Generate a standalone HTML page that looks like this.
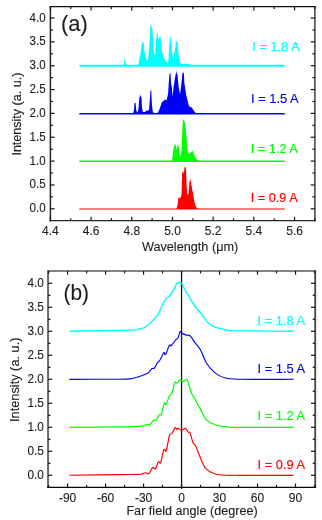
<!DOCTYPE html>
<html><head><meta charset="utf-8"><style>
html,body{margin:0;padding:0;background:#fff;width:322px;height:520px;overflow:hidden}
svg{display:block;will-change:transform;font-family:"Liberation Sans", sans-serif}
</style></head><body>
<svg width="322" height="520" viewBox="0 0 322 520">
<rect width="322" height="520" fill="#fff"/>
<line x1="49.70" y1="6.60" x2="315.60" y2="6.60" stroke="#111" stroke-width="1.3"/>
<line x1="50.40" y1="6.00" x2="50.40" y2="221.40" stroke="#262626" stroke-width="1.5"/>
<line x1="314.90" y1="6.00" x2="314.90" y2="221.40" stroke="#222" stroke-width="1.3"/>
<line x1="49.60" y1="220.60" x2="315.60" y2="220.60" stroke="#262626" stroke-width="1.4"/>
<line x1="50.40" y1="220.60" x2="50.40" y2="216.80" stroke="#161616" stroke-width="1.2"/>
<line x1="50.40" y1="6.60" x2="50.40" y2="10.40" stroke="#161616" stroke-width="1.2"/>
<text x="50.40" y="235.00" font-size="12.0" text-anchor="middle" fill="#1e1e1e" stroke="#1e1e1e" stroke-width="0.12" >4.4</text>
<line x1="70.75" y1="220.60" x2="70.75" y2="218.20" stroke="#161616" stroke-width="1.2"/>
<line x1="70.75" y1="6.60" x2="70.75" y2="9.00" stroke="#161616" stroke-width="1.2"/>
<line x1="91.09" y1="220.60" x2="91.09" y2="216.80" stroke="#161616" stroke-width="1.2"/>
<line x1="91.09" y1="6.60" x2="91.09" y2="10.40" stroke="#161616" stroke-width="1.2"/>
<text x="91.09" y="235.00" font-size="12.0" text-anchor="middle" fill="#1e1e1e" stroke="#1e1e1e" stroke-width="0.12" >4.6</text>
<line x1="111.44" y1="220.60" x2="111.44" y2="218.20" stroke="#161616" stroke-width="1.2"/>
<line x1="111.44" y1="6.60" x2="111.44" y2="9.00" stroke="#161616" stroke-width="1.2"/>
<line x1="131.78" y1="220.60" x2="131.78" y2="216.80" stroke="#161616" stroke-width="1.2"/>
<line x1="131.78" y1="6.60" x2="131.78" y2="10.40" stroke="#161616" stroke-width="1.2"/>
<text x="131.78" y="235.00" font-size="12.0" text-anchor="middle" fill="#1e1e1e" stroke="#1e1e1e" stroke-width="0.12" >4.8</text>
<line x1="152.13" y1="220.60" x2="152.13" y2="218.20" stroke="#161616" stroke-width="1.2"/>
<line x1="152.13" y1="6.60" x2="152.13" y2="9.00" stroke="#161616" stroke-width="1.2"/>
<line x1="172.48" y1="220.60" x2="172.48" y2="216.80" stroke="#161616" stroke-width="1.2"/>
<line x1="172.48" y1="6.60" x2="172.48" y2="10.40" stroke="#161616" stroke-width="1.2"/>
<text x="172.48" y="235.00" font-size="12.0" text-anchor="middle" fill="#1e1e1e" stroke="#1e1e1e" stroke-width="0.12" >5.0</text>
<line x1="192.82" y1="220.60" x2="192.82" y2="218.20" stroke="#161616" stroke-width="1.2"/>
<line x1="192.82" y1="6.60" x2="192.82" y2="9.00" stroke="#161616" stroke-width="1.2"/>
<line x1="213.17" y1="220.60" x2="213.17" y2="216.80" stroke="#161616" stroke-width="1.2"/>
<line x1="213.17" y1="6.60" x2="213.17" y2="10.40" stroke="#161616" stroke-width="1.2"/>
<text x="213.17" y="235.00" font-size="12.0" text-anchor="middle" fill="#1e1e1e" stroke="#1e1e1e" stroke-width="0.12" >5.2</text>
<line x1="233.52" y1="220.60" x2="233.52" y2="218.20" stroke="#161616" stroke-width="1.2"/>
<line x1="233.52" y1="6.60" x2="233.52" y2="9.00" stroke="#161616" stroke-width="1.2"/>
<line x1="253.86" y1="220.60" x2="253.86" y2="216.80" stroke="#161616" stroke-width="1.2"/>
<line x1="253.86" y1="6.60" x2="253.86" y2="10.40" stroke="#161616" stroke-width="1.2"/>
<text x="253.86" y="235.00" font-size="12.0" text-anchor="middle" fill="#1e1e1e" stroke="#1e1e1e" stroke-width="0.12" >5.4</text>
<line x1="274.21" y1="220.60" x2="274.21" y2="218.20" stroke="#161616" stroke-width="1.2"/>
<line x1="274.21" y1="6.60" x2="274.21" y2="9.00" stroke="#161616" stroke-width="1.2"/>
<line x1="294.55" y1="220.60" x2="294.55" y2="216.80" stroke="#161616" stroke-width="1.2"/>
<line x1="294.55" y1="6.60" x2="294.55" y2="10.40" stroke="#161616" stroke-width="1.2"/>
<text x="294.55" y="235.00" font-size="12.0" text-anchor="middle" fill="#1e1e1e" stroke="#1e1e1e" stroke-width="0.12" >5.6</text>
<line x1="314.90" y1="220.60" x2="314.90" y2="218.20" stroke="#161616" stroke-width="1.2"/>
<line x1="314.90" y1="6.60" x2="314.90" y2="9.00" stroke="#161616" stroke-width="1.2"/>
<line x1="50.40" y1="208.80" x2="54.60" y2="208.80" stroke="#161616" stroke-width="1.2"/>
<line x1="314.90" y1="208.80" x2="310.70" y2="208.80" stroke="#161616" stroke-width="1.2"/>
<text x="45.70" y="212.30" font-size="12.0" text-anchor="end" fill="#1e1e1e" stroke="#1e1e1e" stroke-width="0.12" textLength="16.1" lengthAdjust="spacingAndGlyphs">0.0</text>
<line x1="50.40" y1="196.88" x2="52.90" y2="196.88" stroke="#161616" stroke-width="1.2"/>
<line x1="314.90" y1="196.88" x2="312.40" y2="196.88" stroke="#161616" stroke-width="1.2"/>
<line x1="50.40" y1="184.95" x2="54.60" y2="184.95" stroke="#161616" stroke-width="1.2"/>
<line x1="314.90" y1="184.95" x2="310.70" y2="184.95" stroke="#161616" stroke-width="1.2"/>
<text x="45.70" y="188.45" font-size="12.0" text-anchor="end" fill="#1e1e1e" stroke="#1e1e1e" stroke-width="0.12" textLength="16.1" lengthAdjust="spacingAndGlyphs">0.5</text>
<line x1="50.40" y1="173.03" x2="52.90" y2="173.03" stroke="#161616" stroke-width="1.2"/>
<line x1="314.90" y1="173.03" x2="312.40" y2="173.03" stroke="#161616" stroke-width="1.2"/>
<line x1="50.40" y1="161.10" x2="54.60" y2="161.10" stroke="#161616" stroke-width="1.2"/>
<line x1="314.90" y1="161.10" x2="310.70" y2="161.10" stroke="#161616" stroke-width="1.2"/>
<text x="45.70" y="164.60" font-size="12.0" text-anchor="end" fill="#1e1e1e" stroke="#1e1e1e" stroke-width="0.12" textLength="16.1" lengthAdjust="spacingAndGlyphs">1.0</text>
<line x1="50.40" y1="149.18" x2="52.90" y2="149.18" stroke="#161616" stroke-width="1.2"/>
<line x1="314.90" y1="149.18" x2="312.40" y2="149.18" stroke="#161616" stroke-width="1.2"/>
<line x1="50.40" y1="137.25" x2="54.60" y2="137.25" stroke="#161616" stroke-width="1.2"/>
<line x1="314.90" y1="137.25" x2="310.70" y2="137.25" stroke="#161616" stroke-width="1.2"/>
<text x="45.70" y="140.75" font-size="12.0" text-anchor="end" fill="#1e1e1e" stroke="#1e1e1e" stroke-width="0.12" textLength="16.1" lengthAdjust="spacingAndGlyphs">1.5</text>
<line x1="50.40" y1="125.33" x2="52.90" y2="125.33" stroke="#161616" stroke-width="1.2"/>
<line x1="314.90" y1="125.33" x2="312.40" y2="125.33" stroke="#161616" stroke-width="1.2"/>
<line x1="50.40" y1="113.40" x2="54.60" y2="113.40" stroke="#161616" stroke-width="1.2"/>
<line x1="314.90" y1="113.40" x2="310.70" y2="113.40" stroke="#161616" stroke-width="1.2"/>
<text x="45.70" y="116.90" font-size="12.0" text-anchor="end" fill="#1e1e1e" stroke="#1e1e1e" stroke-width="0.12" textLength="16.1" lengthAdjust="spacingAndGlyphs">2.0</text>
<line x1="50.40" y1="101.48" x2="52.90" y2="101.48" stroke="#161616" stroke-width="1.2"/>
<line x1="314.90" y1="101.48" x2="312.40" y2="101.48" stroke="#161616" stroke-width="1.2"/>
<line x1="50.40" y1="89.55" x2="54.60" y2="89.55" stroke="#161616" stroke-width="1.2"/>
<line x1="314.90" y1="89.55" x2="310.70" y2="89.55" stroke="#161616" stroke-width="1.2"/>
<text x="45.70" y="93.05" font-size="12.0" text-anchor="end" fill="#1e1e1e" stroke="#1e1e1e" stroke-width="0.12" textLength="16.1" lengthAdjust="spacingAndGlyphs">2.5</text>
<line x1="50.40" y1="77.62" x2="52.90" y2="77.62" stroke="#161616" stroke-width="1.2"/>
<line x1="314.90" y1="77.62" x2="312.40" y2="77.62" stroke="#161616" stroke-width="1.2"/>
<line x1="50.40" y1="65.70" x2="54.60" y2="65.70" stroke="#161616" stroke-width="1.2"/>
<line x1="314.90" y1="65.70" x2="310.70" y2="65.70" stroke="#161616" stroke-width="1.2"/>
<text x="45.70" y="69.20" font-size="12.0" text-anchor="end" fill="#1e1e1e" stroke="#1e1e1e" stroke-width="0.12" textLength="16.1" lengthAdjust="spacingAndGlyphs">3.0</text>
<line x1="50.40" y1="53.78" x2="52.90" y2="53.78" stroke="#161616" stroke-width="1.2"/>
<line x1="314.90" y1="53.78" x2="312.40" y2="53.78" stroke="#161616" stroke-width="1.2"/>
<line x1="50.40" y1="41.85" x2="54.60" y2="41.85" stroke="#161616" stroke-width="1.2"/>
<line x1="314.90" y1="41.85" x2="310.70" y2="41.85" stroke="#161616" stroke-width="1.2"/>
<text x="45.70" y="45.35" font-size="12.0" text-anchor="end" fill="#1e1e1e" stroke="#1e1e1e" stroke-width="0.12" textLength="16.1" lengthAdjust="spacingAndGlyphs">3.5</text>
<line x1="50.40" y1="29.93" x2="52.90" y2="29.93" stroke="#161616" stroke-width="1.2"/>
<line x1="314.90" y1="29.93" x2="312.40" y2="29.93" stroke="#161616" stroke-width="1.2"/>
<line x1="50.40" y1="18.00" x2="54.60" y2="18.00" stroke="#161616" stroke-width="1.2"/>
<line x1="314.90" y1="18.00" x2="310.70" y2="18.00" stroke="#161616" stroke-width="1.2"/>
<text x="45.70" y="21.50" font-size="12.0" text-anchor="end" fill="#1e1e1e" stroke="#1e1e1e" stroke-width="0.12" textLength="16.1" lengthAdjust="spacingAndGlyphs">4.0</text>
<text x="141.90" y="250.90" font-size="12.6" text-anchor="start" fill="#1e1e1e" stroke="#1e1e1e" stroke-width="0.12" textLength="96.4" lengthAdjust="spacingAndGlyphs">Wavelength (&#956;m)</text>
<text x="21.30" y="155.60" font-size="12.2" text-anchor="start" fill="#1e1e1e" stroke="#1e1e1e" stroke-width="0.12" transform="rotate(-90 21.3 155.6)" textLength="83" lengthAdjust="spacingAndGlyphs">Intensity (a. u.)</text>
<text x="61.00" y="31.30" font-size="21.5" text-anchor="start" fill="#1e1e1e" stroke="#1e1e1e" stroke-width="0.12" textLength="26.8" lengthAdjust="spacingAndGlyphs">(a)</text>
<line x1="79.30" y1="65.80" x2="284.70" y2="65.80" stroke="#00ffff" stroke-width="2.0"/>
<path d="M79.30,65.80 L79.30,65.80 L79.55,65.80 L79.80,65.80 L80.05,65.80 L80.30,65.80 L80.55,65.80 L80.80,65.80 L81.05,65.80 L81.30,65.80 L81.55,65.80 L81.80,65.80 L82.05,65.80 L82.30,65.80 L82.55,65.80 L82.80,65.80 L83.05,65.80 L83.30,65.80 L83.55,65.80 L83.80,65.80 L84.05,65.80 L84.30,65.80 L84.55,65.80 L84.80,65.80 L85.05,65.80 L85.30,65.80 L85.55,65.80 L85.80,65.80 L86.05,65.80 L86.30,65.80 L86.55,65.80 L86.80,65.80 L87.05,65.80 L87.30,65.80 L87.55,65.80 L87.80,65.80 L88.05,65.80 L88.30,65.80 L88.55,65.80 L88.80,65.80 L89.05,65.80 L89.30,65.80 L89.55,65.80 L89.80,65.80 L90.05,65.80 L90.30,65.80 L90.55,65.80 L90.80,65.80 L91.05,65.80 L91.30,65.80 L91.55,65.80 L91.80,65.80 L92.05,65.80 L92.30,65.80 L92.55,65.80 L92.80,65.80 L93.05,65.80 L93.30,65.80 L93.55,65.80 L93.80,65.80 L94.05,65.80 L94.30,65.80 L94.55,65.80 L94.80,65.80 L95.05,65.80 L95.30,65.80 L95.55,65.80 L95.80,65.80 L96.05,65.80 L96.30,65.80 L96.55,65.80 L96.80,65.80 L97.05,65.80 L97.30,65.80 L97.55,65.80 L97.80,65.80 L98.05,65.80 L98.30,65.80 L98.55,65.80 L98.80,65.80 L99.05,65.80 L99.30,65.80 L99.55,65.80 L99.80,65.80 L100.05,65.80 L100.30,65.80 L100.55,65.80 L100.80,65.80 L101.05,65.80 L101.30,65.80 L101.55,65.80 L101.80,65.80 L102.05,65.80 L102.30,65.80 L102.55,65.80 L102.80,65.80 L103.05,65.80 L103.30,65.80 L103.55,65.80 L103.80,65.80 L104.05,65.80 L104.30,65.80 L104.55,65.80 L104.80,65.80 L105.05,65.80 L105.30,65.80 L105.55,65.80 L105.80,65.80 L106.05,65.80 L106.30,65.80 L106.55,65.80 L106.80,65.80 L107.05,65.80 L107.30,65.80 L107.55,65.80 L107.80,65.80 L108.05,65.80 L108.30,65.80 L108.55,65.80 L108.80,65.80 L109.05,65.80 L109.30,65.80 L109.55,65.80 L109.80,65.80 L110.05,65.80 L110.30,65.80 L110.55,65.80 L110.80,65.80 L111.05,65.80 L111.30,65.80 L111.55,65.80 L111.80,65.80 L112.05,65.80 L112.30,65.80 L112.55,65.80 L112.80,65.80 L113.05,65.80 L113.30,65.80 L113.55,65.80 L113.80,65.80 L114.05,65.80 L114.30,65.80 L114.55,65.80 L114.80,65.80 L115.05,65.80 L115.30,65.80 L115.55,65.80 L115.80,65.80 L116.05,65.80 L116.30,65.80 L116.55,65.80 L116.80,65.80 L117.05,65.80 L117.30,65.80 L117.55,65.80 L117.80,65.80 L118.05,65.80 L118.30,65.80 L118.55,65.80 L118.80,65.80 L119.05,65.80 L119.30,65.80 L119.55,65.80 L119.80,65.80 L120.05,65.80 L120.30,65.80 L120.55,65.80 L120.80,65.80 L121.05,65.80 L121.30,65.80 L121.55,65.80 L121.80,65.80 L121.90,65.80 L122.05,65.64 L122.30,65.37 L122.55,65.13 L122.80,64.83 L123.00,64.60 L123.05,64.60 L123.30,64.23 L123.55,63.95 L123.80,63.60 L124.05,59.93 L124.10,58.90 L124.30,59.26 L124.55,59.38 L124.70,58.90 L124.80,59.85 L125.05,62.30 L125.20,63.40 L125.30,63.48 L125.55,63.57 L125.80,63.74 L126.05,63.91 L126.30,63.93 L126.50,64.00 L126.55,64.04 L126.80,64.26 L127.05,64.46 L127.30,64.65 L127.55,64.83 L127.80,65.02 L128.05,65.18 L128.10,65.20 L128.30,65.35 L128.55,65.52 L128.80,65.68 L129.00,65.80 L129.05,65.80 L129.30,65.80 L129.55,65.80 L129.80,65.80 L130.05,65.80 L130.30,65.80 L130.55,65.80 L130.80,65.80 L131.05,65.80 L131.30,65.80 L131.55,65.80 L131.80,65.80 L132.05,65.80 L132.30,65.80 L132.55,65.80 L132.80,65.80 L133.05,65.80 L133.30,65.80 L133.55,65.80 L133.80,65.80 L134.05,65.80 L134.30,65.80 L134.55,65.80 L134.80,65.80 L135.05,65.80 L135.30,65.80 L135.55,65.80 L135.80,65.80 L136.00,65.80 L136.05,65.77 L136.30,65.63 L136.55,65.49 L136.80,65.35 L137.05,65.22 L137.30,65.05 L137.55,64.92 L137.80,64.75 L138.05,64.61 L138.30,64.54 L138.40,64.40 L138.55,63.56 L138.80,62.20 L139.05,60.80 L139.30,59.36 L139.40,58.30 L139.55,57.66 L139.80,56.53 L140.05,55.32 L140.30,54.54 L140.55,53.15 L140.80,51.60 L141.05,49.74 L141.30,48.19 L141.55,45.90 L141.80,44.41 L142.00,41.50 L142.05,43.06 L142.30,42.75 L142.55,41.69 L142.80,42.24 L143.05,41.63 L143.30,42.42 L143.50,41.50 L143.55,43.16 L143.80,44.52 L144.05,46.68 L144.20,47.80 L144.30,49.83 L144.55,51.10 L144.80,53.69 L145.05,55.65 L145.10,55.40 L145.30,55.98 L145.55,57.16 L145.80,57.63 L146.05,57.81 L146.30,58.73 L146.55,59.48 L146.80,60.05 L147.00,60.20 L147.05,60.45 L147.30,60.01 L147.55,60.04 L147.80,59.44 L148.00,59.20 L148.05,58.99 L148.30,56.13 L148.55,53.61 L148.80,51.69 L149.05,49.29 L149.30,45.80 L149.55,41.13 L149.80,36.54 L150.05,29.86 L150.20,25.60 L150.30,27.99 L150.55,27.28 L150.80,23.61 L151.05,24.83 L151.20,22.20 L151.30,23.90 L151.55,25.50 L151.80,27.05 L152.05,28.89 L152.30,27.50 L152.55,32.28 L152.80,36.71 L153.05,41.28 L153.30,45.80 L153.55,49.06 L153.80,50.96 L154.05,52.61 L154.30,54.40 L154.55,54.42 L154.80,54.76 L155.05,54.65 L155.20,54.40 L155.30,52.90 L155.55,48.98 L155.80,44.25 L156.05,40.30 L156.10,38.10 L156.30,38.31 L156.55,37.09 L156.80,35.09 L156.90,32.80 L157.05,32.84 L157.30,34.08 L157.55,33.60 L157.80,32.80 L158.05,37.13 L158.30,40.00 L158.55,39.06 L158.80,39.09 L159.05,38.25 L159.30,35.80 L159.55,37.29 L159.80,37.39 L160.05,36.37 L160.30,36.35 L160.50,36.20 L160.55,38.03 L160.80,39.91 L161.05,41.48 L161.20,41.90 L161.30,43.55 L161.55,45.87 L161.80,48.68 L162.05,51.22 L162.20,51.60 L162.30,52.74 L162.55,53.85 L162.80,54.41 L163.05,55.76 L163.30,56.71 L163.55,57.32 L163.60,57.30 L163.80,58.01 L164.05,58.10 L164.30,58.63 L164.55,58.82 L164.80,59.53 L165.05,59.73 L165.30,59.98 L165.50,60.20 L165.55,60.65 L165.80,60.80 L166.05,61.53 L166.30,61.81 L166.55,62.23 L166.80,62.75 L167.00,63.10 L167.05,63.13 L167.30,62.69 L167.55,62.09 L167.80,61.47 L168.05,61.17 L168.30,60.45 L168.40,60.20 L168.55,57.65 L168.80,52.09 L169.05,48.16 L169.20,43.80 L169.30,44.19 L169.55,41.52 L169.80,39.96 L170.05,38.03 L170.20,36.80 L170.30,37.16 L170.55,37.43 L170.80,37.63 L171.05,38.74 L171.10,37.10 L171.30,43.38 L171.50,47.80 L171.55,49.17 L171.80,50.10 L172.05,51.77 L172.30,53.76 L172.55,55.47 L172.80,56.40 L173.05,57.59 L173.30,58.83 L173.40,59.20 L173.55,58.40 L173.80,56.73 L174.05,54.81 L174.30,53.45 L174.55,51.84 L174.80,50.25 L174.90,48.80 L175.05,48.55 L175.30,46.98 L175.55,44.15 L175.80,42.59 L176.00,40.00 L176.05,40.79 L176.30,41.78 L176.55,41.33 L176.80,41.79 L177.05,41.89 L177.30,41.72 L177.55,40.79 L177.60,40.50 L177.80,44.60 L178.05,48.40 L178.30,51.60 L178.55,53.80 L178.80,55.88 L179.05,57.78 L179.20,58.30 L179.30,58.96 L179.55,60.01 L179.80,61.00 L180.05,62.11 L180.20,62.60 L180.30,62.74 L180.55,62.91 L180.80,63.18 L181.05,63.30 L181.30,63.47 L181.55,63.69 L181.60,63.60 L181.80,63.70 L182.05,63.70 L182.30,63.66 L182.55,63.67 L182.80,63.79 L183.05,63.75 L183.30,63.85 L183.55,63.86 L183.80,63.81 L184.05,63.78 L184.30,63.89 L184.55,63.82 L184.80,63.82 L185.05,63.92 L185.30,63.88 L185.55,63.88 L185.80,63.96 L186.05,63.93 L186.30,63.94 L186.55,63.97 L186.80,63.96 L187.05,63.97 L187.30,63.98 L187.55,64.04 L187.80,64.11 L188.05,64.11 L188.30,64.13 L188.55,64.10 L188.80,64.10 L189.05,64.20 L189.30,64.10 L189.55,64.26 L189.80,64.39 L190.05,64.55 L190.30,64.66 L190.55,64.81 L190.80,64.90 L191.05,65.06 L191.30,65.14 L191.55,65.27 L191.80,65.41 L192.00,65.50 L192.05,65.53 L192.30,65.59 L192.55,65.67 L192.80,65.74 L193.00,65.80 L193.05,65.80 L193.30,65.80 L193.55,65.80 L193.80,65.80 L194.05,65.80 L194.30,65.80 L194.55,65.80 L194.80,65.80 L195.05,65.80 L195.30,65.80 L195.55,65.80 L195.80,65.80 L196.05,65.80 L196.30,65.80 L196.55,65.80 L196.80,65.80 L197.05,65.80 L197.30,65.80 L197.55,65.80 L197.80,65.80 L198.05,65.80 L198.30,65.80 L198.55,65.80 L198.80,65.80 L199.05,65.80 L199.30,65.80 L199.55,65.80 L199.80,65.80 L200.05,65.80 L200.30,65.80 L200.55,65.80 L200.80,65.80 L201.05,65.80 L201.30,65.80 L201.55,65.80 L201.80,65.80 L202.05,65.80 L202.30,65.80 L202.55,65.80 L202.80,65.80 L203.05,65.80 L203.30,65.80 L203.55,65.80 L203.80,65.80 L204.05,65.80 L204.30,65.80 L204.55,65.80 L204.80,65.80 L205.05,65.80 L205.30,65.80 L205.55,65.80 L205.80,65.80 L206.05,65.80 L206.30,65.80 L206.55,65.80 L206.80,65.80 L207.05,65.80 L207.30,65.80 L207.55,65.80 L207.80,65.80 L208.05,65.80 L208.30,65.80 L208.55,65.80 L208.80,65.80 L209.05,65.80 L209.30,65.80 L209.55,65.80 L209.80,65.80 L210.05,65.80 L210.30,65.80 L210.55,65.80 L210.80,65.80 L211.05,65.80 L211.30,65.80 L211.55,65.80 L211.80,65.80 L212.05,65.80 L212.30,65.80 L212.55,65.80 L212.80,65.80 L213.05,65.80 L213.30,65.80 L213.55,65.80 L213.80,65.80 L214.05,65.80 L214.30,65.80 L214.55,65.80 L214.80,65.80 L215.05,65.80 L215.30,65.80 L215.55,65.80 L215.80,65.80 L216.05,65.80 L216.30,65.80 L216.55,65.80 L216.80,65.80 L217.05,65.80 L217.30,65.80 L217.55,65.80 L217.80,65.80 L218.05,65.80 L218.30,65.80 L218.55,65.80 L218.80,65.80 L219.05,65.80 L219.30,65.80 L219.55,65.80 L219.80,65.80 L220.05,65.80 L220.30,65.80 L220.55,65.80 L220.80,65.80 L221.05,65.80 L221.30,65.80 L221.55,65.80 L221.80,65.80 L222.05,65.80 L222.30,65.80 L222.55,65.80 L222.80,65.80 L223.05,65.80 L223.30,65.80 L223.55,65.80 L223.80,65.80 L224.05,65.80 L224.30,65.80 L224.55,65.80 L224.80,65.80 L225.05,65.80 L225.30,65.80 L225.55,65.80 L225.80,65.80 L226.05,65.80 L226.30,65.80 L226.55,65.80 L226.80,65.80 L227.05,65.80 L227.30,65.80 L227.55,65.80 L227.80,65.80 L228.05,65.80 L228.30,65.80 L228.55,65.80 L228.80,65.80 L229.05,65.80 L229.30,65.80 L229.55,65.80 L229.80,65.80 L230.05,65.80 L230.30,65.80 L230.55,65.80 L230.80,65.80 L231.05,65.80 L231.30,65.80 L231.55,65.80 L231.80,65.80 L232.05,65.80 L232.30,65.80 L232.55,65.80 L232.80,65.80 L233.05,65.80 L233.30,65.80 L233.55,65.80 L233.80,65.80 L234.05,65.80 L234.30,65.80 L234.55,65.80 L234.80,65.80 L235.05,65.80 L235.30,65.80 L235.55,65.80 L235.80,65.80 L236.05,65.80 L236.30,65.80 L236.55,65.80 L236.80,65.80 L237.05,65.80 L237.30,65.80 L237.55,65.80 L237.80,65.80 L238.05,65.80 L238.30,65.80 L238.55,65.80 L238.80,65.80 L239.05,65.80 L239.30,65.80 L239.55,65.80 L239.80,65.80 L240.05,65.80 L240.30,65.80 L240.55,65.80 L240.80,65.80 L241.05,65.80 L241.30,65.80 L241.55,65.80 L241.80,65.80 L242.05,65.80 L242.30,65.80 L242.55,65.80 L242.80,65.80 L243.05,65.80 L243.30,65.80 L243.55,65.80 L243.80,65.80 L244.05,65.80 L244.30,65.80 L244.55,65.80 L244.80,65.80 L245.05,65.80 L245.30,65.80 L245.55,65.80 L245.80,65.80 L246.05,65.80 L246.30,65.80 L246.55,65.80 L246.80,65.80 L247.05,65.80 L247.30,65.80 L247.55,65.80 L247.80,65.80 L248.05,65.80 L248.30,65.80 L248.55,65.80 L248.80,65.80 L249.05,65.80 L249.30,65.80 L249.55,65.80 L249.80,65.80 L250.05,65.80 L250.30,65.80 L250.55,65.80 L250.80,65.80 L251.05,65.80 L251.30,65.80 L251.55,65.80 L251.80,65.80 L252.05,65.80 L252.30,65.80 L252.55,65.80 L252.80,65.80 L253.05,65.80 L253.30,65.80 L253.55,65.80 L253.80,65.80 L254.05,65.80 L254.30,65.80 L254.55,65.80 L254.80,65.80 L255.05,65.80 L255.30,65.80 L255.55,65.80 L255.80,65.80 L256.05,65.80 L256.30,65.80 L256.55,65.80 L256.80,65.80 L257.05,65.80 L257.30,65.80 L257.55,65.80 L257.80,65.80 L258.05,65.80 L258.30,65.80 L258.55,65.80 L258.80,65.80 L259.05,65.80 L259.30,65.80 L259.55,65.80 L259.80,65.80 L260.05,65.80 L260.30,65.80 L260.55,65.80 L260.80,65.80 L261.05,65.80 L261.30,65.80 L261.55,65.80 L261.80,65.80 L262.05,65.80 L262.30,65.80 L262.55,65.80 L262.80,65.80 L263.05,65.80 L263.30,65.80 L263.55,65.80 L263.80,65.80 L264.05,65.80 L264.30,65.80 L264.55,65.80 L264.80,65.80 L265.05,65.80 L265.30,65.80 L265.55,65.80 L265.80,65.80 L266.05,65.80 L266.30,65.80 L266.55,65.80 L266.80,65.80 L267.05,65.80 L267.30,65.80 L267.55,65.80 L267.80,65.80 L268.05,65.80 L268.30,65.80 L268.55,65.80 L268.80,65.80 L269.05,65.80 L269.30,65.80 L269.55,65.80 L269.80,65.80 L270.05,65.80 L270.30,65.80 L270.55,65.80 L270.80,65.80 L271.05,65.80 L271.30,65.80 L271.55,65.80 L271.80,65.80 L272.05,65.80 L272.30,65.80 L272.55,65.80 L272.80,65.80 L273.05,65.80 L273.30,65.80 L273.55,65.80 L273.80,65.80 L274.05,65.80 L274.30,65.80 L274.55,65.80 L274.80,65.80 L275.05,65.80 L275.30,65.80 L275.55,65.80 L275.80,65.80 L276.05,65.80 L276.30,65.80 L276.55,65.80 L276.80,65.80 L277.05,65.80 L277.30,65.80 L277.55,65.80 L277.80,65.80 L278.05,65.80 L278.30,65.80 L278.55,65.80 L278.80,65.80 L279.05,65.80 L279.30,65.80 L279.55,65.80 L279.80,65.80 L280.05,65.80 L280.30,65.80 L280.55,65.80 L280.80,65.80 L281.05,65.80 L281.30,65.80 L281.55,65.80 L281.80,65.80 L282.05,65.80 L282.30,65.80 L282.55,65.80 L282.80,65.80 L283.05,65.80 L283.30,65.80 L283.55,65.80 L283.80,65.80 L284.05,65.80 L284.30,65.80 L284.55,65.80 L284.70,65.80 L284.70,65.80 Z" fill="#00ffff" stroke="none"/>
<line x1="79.30" y1="113.70" x2="284.70" y2="113.70" stroke="#0000ff" stroke-width="1.6"/>
<path d="M79.30,113.70 L79.30,113.70 L79.55,113.70 L79.80,113.70 L80.05,113.69 L80.30,113.69 L80.55,113.69 L80.80,113.69 L81.05,113.68 L81.30,113.68 L81.55,113.68 L81.80,113.68 L82.05,113.68 L82.30,113.67 L82.55,113.67 L82.80,113.67 L83.05,113.67 L83.30,113.66 L83.55,113.66 L83.80,113.66 L84.05,113.66 L84.30,113.66 L84.55,113.65 L84.80,113.65 L85.05,113.65 L85.30,113.65 L85.55,113.64 L85.80,113.64 L86.05,113.64 L86.30,113.64 L86.55,113.64 L86.80,113.64 L87.05,113.63 L87.30,113.63 L87.55,113.63 L87.80,113.62 L88.05,113.62 L88.30,113.62 L88.55,113.61 L88.80,113.61 L89.05,113.61 L89.30,113.61 L89.55,113.61 L89.80,113.60 L90.05,113.60 L90.30,113.60 L90.55,113.60 L90.80,113.60 L91.05,113.59 L91.30,113.59 L91.55,113.59 L91.80,113.59 L92.05,113.59 L92.30,113.58 L92.55,113.58 L92.80,113.58 L93.05,113.58 L93.30,113.57 L93.55,113.57 L93.80,113.57 L94.05,113.57 L94.30,113.56 L94.55,113.56 L94.80,113.56 L95.05,113.56 L95.30,113.56 L95.55,113.55 L95.80,113.56 L96.05,113.55 L96.30,113.55 L96.55,113.54 L96.80,113.55 L97.05,113.54 L97.30,113.54 L97.55,113.54 L97.80,113.53 L98.05,113.53 L98.30,113.53 L98.55,113.53 L98.80,113.53 L99.05,113.52 L99.30,113.51 L99.55,113.52 L99.80,113.52 L100.05,113.51 L100.30,113.51 L100.55,113.50 L100.80,113.51 L101.05,113.50 L101.30,113.51 L101.55,113.50 L101.80,113.50 L102.05,113.50 L102.30,113.49 L102.55,113.50 L102.80,113.49 L103.05,113.48 L103.30,113.49 L103.55,113.49 L103.80,113.47 L104.05,113.48 L104.30,113.47 L104.55,113.48 L104.80,113.47 L105.05,113.47 L105.30,113.46 L105.55,113.47 L105.80,113.45 L106.05,113.47 L106.30,113.45 L106.55,113.46 L106.80,113.46 L107.05,113.45 L107.30,113.46 L107.55,113.45 L107.80,113.44 L108.05,113.44 L108.30,113.45 L108.55,113.43 L108.80,113.44 L109.05,113.44 L109.30,113.43 L109.55,113.43 L109.80,113.42 L110.05,113.43 L110.30,113.43 L110.55,113.43 L110.80,113.42 L111.05,113.41 L111.30,113.41 L111.55,113.40 L111.80,113.40 L112.05,113.40 L112.30,113.40 L112.55,113.40 L112.80,113.41 L113.05,113.39 L113.30,113.40 L113.55,113.40 L113.80,113.39 L114.05,113.38 L114.30,113.39 L114.55,113.38 L114.80,113.38 L115.05,113.38 L115.30,113.39 L115.55,113.36 L115.80,113.38 L116.05,113.37 L116.30,113.37 L116.55,113.38 L116.80,113.36 L117.05,113.37 L117.30,113.37 L117.55,113.37 L117.80,113.36 L118.05,113.36 L118.30,113.35 L118.55,113.35 L118.80,113.33 L119.05,113.33 L119.30,113.33 L119.55,113.35 L119.80,113.34 L120.05,113.34 L120.30,113.33 L120.55,113.33 L120.80,113.32 L121.05,113.32 L121.30,113.33 L121.55,113.32 L121.80,113.32 L122.05,113.33 L122.30,113.33 L122.55,113.31 L122.80,113.32 L123.05,113.30 L123.30,113.31 L123.55,113.31 L123.80,113.31 L124.05,113.31 L124.30,113.30 L124.55,113.29 L124.80,113.29 L125.05,113.30 L125.30,113.28 L125.55,113.29 L125.80,113.27 L126.05,113.27 L126.30,113.27 L126.55,113.28 L126.80,113.27 L127.05,113.27 L127.30,113.28 L127.55,113.27 L127.80,113.26 L128.05,113.27 L128.30,113.27 L128.55,113.25 L128.80,113.26 L129.05,113.25 L129.30,113.24 L129.55,113.25 L129.80,113.25 L130.05,113.23 L130.30,113.25 L130.55,113.26 L130.80,113.23 L131.05,113.25 L131.30,113.24 L131.55,113.22 L131.80,113.22 L132.05,113.24 L132.30,113.23 L132.55,113.23 L132.80,113.22 L133.05,113.23 L133.10,113.20 L133.30,112.42 L133.55,111.51 L133.80,110.50 L134.05,109.50 L134.10,109.10 L134.30,105.84 L134.50,102.50 L134.55,103.22 L134.80,102.69 L135.05,103.13 L135.30,102.84 L135.55,102.98 L135.60,102.50 L135.80,105.33 L136.05,108.22 L136.20,110.00 L136.30,110.40 L136.55,111.06 L136.80,111.66 L137.05,112.26 L137.30,112.80 L137.55,111.98 L137.80,111.18 L138.05,110.29 L138.30,109.53 L138.40,109.10 L138.55,107.71 L138.80,104.45 L139.05,101.37 L139.30,98.42 L139.40,96.90 L139.55,97.16 L139.80,96.80 L140.05,96.13 L140.30,95.14 L140.55,95.30 L140.60,94.20 L140.80,95.64 L141.05,96.70 L141.30,97.13 L141.50,97.90 L141.55,99.12 L141.80,104.07 L142.00,108.10 L142.05,108.37 L142.30,109.58 L142.55,110.60 L142.80,111.56 L142.90,111.90 L143.05,111.99 L143.30,111.97 L143.55,111.94 L143.80,111.91 L144.05,111.95 L144.30,111.92 L144.55,112.01 L144.80,111.90 L145.05,111.80 L145.30,111.51 L145.55,111.46 L145.80,111.23 L146.05,111.11 L146.30,110.92 L146.55,110.56 L146.60,110.50 L146.80,110.46 L147.05,110.49 L147.30,110.56 L147.55,110.47 L147.80,110.44 L148.05,110.28 L148.30,110.23 L148.55,110.24 L148.80,110.16 L149.00,110.00 L149.05,109.65 L149.30,106.51 L149.55,103.19 L149.80,100.28 L149.90,98.80 L150.05,97.27 L150.30,92.50 L150.40,90.00 L150.55,90.47 L150.80,91.23 L151.05,90.17 L151.30,90.00 L151.55,96.91 L151.80,102.50 L152.05,105.15 L152.30,107.71 L152.55,109.92 L152.70,111.40 L152.80,111.58 L153.05,111.95 L153.30,112.34 L153.55,112.66 L153.80,113.02 L154.05,113.34 L154.10,113.40 L154.30,113.39 L154.55,113.39 L154.80,113.36 L155.05,113.35 L155.30,113.33 L155.55,113.31 L155.80,113.28 L156.05,113.27 L156.30,113.26 L156.55,113.23 L156.80,113.24 L157.00,113.20 L157.05,113.17 L157.30,112.98 L157.55,112.78 L157.80,112.57 L158.00,112.40 L158.05,112.36 L158.30,111.78 L158.55,111.27 L158.80,110.67 L159.05,110.04 L159.30,109.58 L159.55,109.24 L159.80,108.55 L160.00,107.90 L160.05,107.85 L160.30,106.96 L160.55,106.25 L160.80,105.34 L161.05,105.04 L161.30,103.61 L161.50,102.90 L161.55,103.04 L161.80,102.81 L162.05,102.24 L162.30,101.93 L162.55,102.27 L162.80,101.33 L163.00,100.90 L163.05,101.06 L163.30,101.33 L163.55,100.59 L163.80,100.49 L164.05,100.63 L164.30,99.79 L164.55,100.22 L164.80,99.50 L165.00,98.90 L165.05,99.52 L165.30,99.86 L165.55,99.71 L165.80,99.97 L166.05,100.38 L166.30,99.80 L166.50,99.90 L166.55,100.61 L166.80,99.75 L167.05,98.28 L167.30,96.89 L167.55,96.13 L167.80,95.03 L168.00,93.90 L168.05,93.89 L168.30,89.95 L168.55,86.96 L168.80,81.90 L169.05,79.97 L169.30,75.77 L169.50,71.40 L169.55,74.33 L169.80,74.41 L170.05,72.67 L170.30,74.60 L170.50,72.40 L170.55,74.06 L170.80,78.64 L171.00,81.90 L171.05,83.51 L171.30,84.38 L171.55,85.62 L171.80,86.96 L172.00,87.90 L172.05,90.21 L172.30,93.93 L172.50,95.90 L172.55,96.24 L172.80,93.97 L173.05,92.07 L173.30,90.43 L173.50,86.90 L173.55,87.41 L173.80,84.97 L174.05,84.58 L174.30,82.61 L174.55,81.36 L174.80,79.62 L175.00,76.90 L175.05,76.94 L175.30,77.02 L175.55,74.67 L175.80,73.73 L176.05,72.16 L176.20,69.90 L176.30,70.47 L176.55,73.74 L176.80,72.26 L177.05,74.52 L177.30,74.29 L177.50,73.90 L177.55,75.01 L177.80,78.09 L178.05,81.38 L178.30,83.05 L178.50,84.90 L178.55,87.01 L178.80,87.39 L179.05,89.29 L179.30,90.49 L179.55,91.43 L179.80,93.00 L180.00,93.90 L180.05,94.02 L180.30,92.58 L180.55,90.80 L180.80,88.49 L181.05,87.02 L181.30,85.03 L181.50,81.90 L181.55,81.45 L181.80,80.78 L182.05,76.33 L182.30,74.86 L182.50,70.90 L182.55,72.80 L182.80,72.94 L183.05,73.66 L183.30,72.53 L183.55,73.40 L183.80,70.90 L184.05,77.03 L184.30,81.85 L184.50,83.90 L184.55,84.42 L184.80,85.85 L185.05,88.24 L185.30,89.33 L185.55,90.32 L185.80,92.74 L186.00,92.90 L186.05,94.43 L186.30,95.34 L186.55,96.50 L186.80,97.02 L187.05,98.50 L187.30,99.63 L187.50,99.90 L187.55,100.30 L187.80,101.78 L188.05,102.26 L188.30,103.37 L188.55,104.50 L188.80,105.21 L189.00,105.90 L189.05,106.29 L189.30,106.16 L189.55,106.31 L189.80,106.69 L190.05,106.75 L190.30,106.79 L190.50,106.90 L190.55,107.05 L190.80,107.18 L191.05,107.25 L191.30,107.36 L191.55,107.57 L191.80,107.60 L192.00,107.70 L192.05,108.08 L192.30,108.35 L192.55,108.73 L192.80,109.24 L193.05,109.63 L193.30,110.09 L193.50,110.20 L193.55,110.28 L193.80,110.74 L194.05,111.03 L194.30,111.28 L194.55,111.72 L194.80,111.94 L195.00,112.20 L195.05,112.33 L195.30,112.56 L195.55,112.75 L195.80,112.97 L196.05,113.17 L196.20,113.30 L196.30,113.33 L196.55,113.38 L196.80,113.44 L197.05,113.50 L197.30,113.55 L197.55,113.60 L197.80,113.66 L198.00,113.70 L198.05,113.70 L198.30,113.70 L198.55,113.70 L198.80,113.70 L199.05,113.70 L199.30,113.70 L199.55,113.70 L199.80,113.70 L200.05,113.70 L200.30,113.70 L200.55,113.70 L200.80,113.70 L201.05,113.70 L201.30,113.70 L201.55,113.70 L201.80,113.70 L202.05,113.70 L202.30,113.70 L202.55,113.70 L202.80,113.70 L203.05,113.70 L203.30,113.70 L203.55,113.70 L203.80,113.70 L204.05,113.70 L204.30,113.70 L204.55,113.70 L204.80,113.70 L205.05,113.70 L205.30,113.70 L205.55,113.70 L205.80,113.70 L206.05,113.70 L206.30,113.70 L206.55,113.70 L206.80,113.70 L207.05,113.70 L207.30,113.70 L207.55,113.70 L207.80,113.70 L208.05,113.70 L208.30,113.70 L208.55,113.70 L208.80,113.70 L209.05,113.70 L209.30,113.70 L209.55,113.70 L209.80,113.70 L210.05,113.70 L210.30,113.70 L210.55,113.70 L210.80,113.70 L211.05,113.70 L211.30,113.70 L211.55,113.70 L211.80,113.70 L212.05,113.70 L212.30,113.70 L212.55,113.70 L212.80,113.70 L213.05,113.70 L213.30,113.70 L213.55,113.70 L213.80,113.70 L214.05,113.70 L214.30,113.70 L214.55,113.70 L214.80,113.70 L215.05,113.70 L215.30,113.70 L215.55,113.70 L215.80,113.70 L216.05,113.70 L216.30,113.70 L216.55,113.70 L216.80,113.70 L217.05,113.70 L217.30,113.70 L217.55,113.70 L217.80,113.70 L218.05,113.70 L218.30,113.70 L218.55,113.70 L218.80,113.70 L219.05,113.70 L219.30,113.70 L219.55,113.70 L219.80,113.70 L220.05,113.70 L220.30,113.70 L220.55,113.70 L220.80,113.70 L221.05,113.70 L221.30,113.70 L221.55,113.70 L221.80,113.70 L222.05,113.70 L222.30,113.70 L222.55,113.70 L222.80,113.70 L223.05,113.70 L223.30,113.70 L223.55,113.70 L223.80,113.70 L224.05,113.70 L224.30,113.70 L224.55,113.70 L224.80,113.70 L225.05,113.70 L225.30,113.70 L225.55,113.70 L225.80,113.70 L226.05,113.70 L226.30,113.70 L226.55,113.70 L226.80,113.70 L227.05,113.70 L227.30,113.70 L227.55,113.70 L227.80,113.70 L228.05,113.70 L228.30,113.70 L228.55,113.70 L228.80,113.70 L229.05,113.70 L229.30,113.70 L229.55,113.70 L229.80,113.70 L230.05,113.70 L230.30,113.70 L230.55,113.70 L230.80,113.70 L231.05,113.70 L231.30,113.70 L231.55,113.70 L231.80,113.70 L232.05,113.70 L232.30,113.70 L232.55,113.70 L232.80,113.70 L233.05,113.70 L233.30,113.70 L233.55,113.70 L233.80,113.70 L234.05,113.70 L234.30,113.70 L234.55,113.70 L234.80,113.70 L235.05,113.70 L235.30,113.70 L235.55,113.70 L235.80,113.70 L236.05,113.70 L236.30,113.70 L236.55,113.70 L236.80,113.70 L237.05,113.70 L237.30,113.70 L237.55,113.70 L237.80,113.70 L238.05,113.70 L238.30,113.70 L238.55,113.70 L238.80,113.70 L239.05,113.70 L239.30,113.70 L239.55,113.70 L239.80,113.70 L240.05,113.70 L240.30,113.70 L240.55,113.70 L240.80,113.70 L241.05,113.70 L241.30,113.70 L241.55,113.70 L241.80,113.70 L242.05,113.70 L242.30,113.70 L242.55,113.70 L242.80,113.70 L243.05,113.70 L243.30,113.70 L243.55,113.70 L243.80,113.70 L244.05,113.70 L244.30,113.70 L244.55,113.70 L244.80,113.70 L245.05,113.70 L245.30,113.70 L245.55,113.70 L245.80,113.70 L246.05,113.70 L246.30,113.70 L246.55,113.70 L246.80,113.70 L247.05,113.70 L247.30,113.70 L247.55,113.70 L247.80,113.70 L248.05,113.70 L248.30,113.70 L248.55,113.70 L248.80,113.70 L249.05,113.70 L249.30,113.70 L249.55,113.70 L249.80,113.70 L250.05,113.70 L250.30,113.70 L250.55,113.70 L250.80,113.70 L251.05,113.70 L251.30,113.70 L251.55,113.70 L251.80,113.70 L252.05,113.70 L252.30,113.70 L252.55,113.70 L252.80,113.70 L253.05,113.70 L253.30,113.70 L253.55,113.70 L253.80,113.70 L254.05,113.70 L254.30,113.70 L254.55,113.70 L254.80,113.70 L255.05,113.70 L255.30,113.70 L255.55,113.70 L255.80,113.70 L256.05,113.70 L256.30,113.70 L256.55,113.70 L256.80,113.70 L257.05,113.70 L257.30,113.70 L257.55,113.70 L257.80,113.70 L258.05,113.70 L258.30,113.70 L258.55,113.70 L258.80,113.70 L259.05,113.70 L259.30,113.70 L259.55,113.70 L259.80,113.70 L260.05,113.70 L260.30,113.70 L260.55,113.70 L260.80,113.70 L261.05,113.70 L261.30,113.70 L261.55,113.70 L261.80,113.70 L262.05,113.70 L262.30,113.70 L262.55,113.70 L262.80,113.70 L263.05,113.70 L263.30,113.70 L263.55,113.70 L263.80,113.70 L264.05,113.70 L264.30,113.70 L264.55,113.70 L264.80,113.70 L265.05,113.70 L265.30,113.70 L265.55,113.70 L265.80,113.70 L266.05,113.70 L266.30,113.70 L266.55,113.70 L266.80,113.70 L267.05,113.70 L267.30,113.70 L267.55,113.70 L267.80,113.70 L268.05,113.70 L268.30,113.70 L268.55,113.70 L268.80,113.70 L269.05,113.70 L269.30,113.70 L269.55,113.70 L269.80,113.70 L270.05,113.70 L270.30,113.70 L270.55,113.70 L270.80,113.70 L271.05,113.70 L271.30,113.70 L271.55,113.70 L271.80,113.70 L272.05,113.70 L272.30,113.70 L272.55,113.70 L272.80,113.70 L273.05,113.70 L273.30,113.70 L273.55,113.70 L273.80,113.70 L274.05,113.70 L274.30,113.70 L274.55,113.70 L274.80,113.70 L275.05,113.70 L275.30,113.70 L275.55,113.70 L275.80,113.70 L276.05,113.70 L276.30,113.70 L276.55,113.70 L276.80,113.70 L277.05,113.70 L277.30,113.70 L277.55,113.70 L277.80,113.70 L278.05,113.70 L278.30,113.70 L278.55,113.70 L278.80,113.70 L279.05,113.70 L279.30,113.70 L279.55,113.70 L279.80,113.70 L280.05,113.70 L280.30,113.70 L280.55,113.70 L280.80,113.70 L281.05,113.70 L281.30,113.70 L281.55,113.70 L281.80,113.70 L282.05,113.70 L282.30,113.70 L282.55,113.70 L282.80,113.70 L283.05,113.70 L283.30,113.70 L283.55,113.70 L283.80,113.70 L284.05,113.70 L284.30,113.70 L284.55,113.70 L284.70,113.70 L284.70,113.70 Z" fill="#0000ff" stroke="none"/>
<line x1="79.30" y1="161.20" x2="284.70" y2="161.20" stroke="#00ff00" stroke-width="1.6"/>
<path d="M79.30,161.20 L79.30,161.20 L79.55,161.20 L79.80,161.20 L80.05,161.20 L80.30,161.20 L80.55,161.20 L80.80,161.20 L81.05,161.20 L81.30,161.20 L81.55,161.20 L81.80,161.20 L82.05,161.20 L82.30,161.20 L82.55,161.20 L82.80,161.20 L83.05,161.20 L83.30,161.20 L83.55,161.20 L83.80,161.20 L84.05,161.20 L84.30,161.20 L84.55,161.20 L84.80,161.20 L85.05,161.20 L85.30,161.20 L85.55,161.20 L85.80,161.20 L86.05,161.20 L86.30,161.20 L86.55,161.20 L86.80,161.20 L87.05,161.20 L87.30,161.20 L87.55,161.20 L87.80,161.20 L88.05,161.20 L88.30,161.20 L88.55,161.20 L88.80,161.20 L89.05,161.20 L89.30,161.20 L89.55,161.20 L89.80,161.20 L90.05,161.20 L90.30,161.20 L90.55,161.20 L90.80,161.20 L91.05,161.20 L91.30,161.20 L91.55,161.20 L91.80,161.20 L92.05,161.20 L92.30,161.20 L92.55,161.20 L92.80,161.20 L93.05,161.20 L93.30,161.20 L93.55,161.20 L93.80,161.20 L94.05,161.20 L94.30,161.20 L94.55,161.20 L94.80,161.20 L95.05,161.20 L95.30,161.20 L95.55,161.20 L95.80,161.20 L96.05,161.20 L96.30,161.20 L96.55,161.20 L96.80,161.20 L97.05,161.20 L97.30,161.20 L97.55,161.20 L97.80,161.20 L98.05,161.20 L98.30,161.20 L98.55,161.20 L98.80,161.20 L99.05,161.20 L99.30,161.20 L99.55,161.20 L99.80,161.20 L100.05,161.20 L100.30,161.20 L100.55,161.20 L100.80,161.20 L101.05,161.20 L101.30,161.20 L101.55,161.20 L101.80,161.20 L102.05,161.20 L102.30,161.20 L102.55,161.20 L102.80,161.20 L103.05,161.20 L103.30,161.20 L103.55,161.20 L103.80,161.20 L104.05,161.20 L104.30,161.20 L104.55,161.20 L104.80,161.20 L105.05,161.20 L105.30,161.20 L105.55,161.20 L105.80,161.20 L106.05,161.20 L106.30,161.20 L106.55,161.20 L106.80,161.20 L107.05,161.20 L107.30,161.20 L107.55,161.20 L107.80,161.20 L108.05,161.20 L108.30,161.20 L108.55,161.20 L108.80,161.20 L109.05,161.20 L109.30,161.20 L109.55,161.20 L109.80,161.20 L110.05,161.20 L110.30,161.20 L110.55,161.20 L110.80,161.20 L111.05,161.20 L111.30,161.20 L111.55,161.20 L111.80,161.20 L112.05,161.20 L112.30,161.20 L112.55,161.20 L112.80,161.20 L113.05,161.20 L113.30,161.20 L113.55,161.20 L113.80,161.20 L114.05,161.20 L114.30,161.20 L114.55,161.20 L114.80,161.20 L115.05,161.20 L115.30,161.20 L115.55,161.20 L115.80,161.20 L116.05,161.20 L116.30,161.20 L116.55,161.20 L116.80,161.20 L117.05,161.20 L117.30,161.20 L117.55,161.20 L117.80,161.20 L118.05,161.20 L118.30,161.20 L118.55,161.20 L118.80,161.20 L119.05,161.20 L119.30,161.20 L119.55,161.20 L119.80,161.20 L120.05,161.20 L120.30,161.20 L120.55,161.20 L120.80,161.20 L121.05,161.20 L121.30,161.20 L121.55,161.20 L121.80,161.20 L122.05,161.20 L122.30,161.20 L122.55,161.20 L122.80,161.20 L123.05,161.20 L123.30,161.20 L123.55,161.20 L123.80,161.20 L124.05,161.20 L124.30,161.20 L124.55,161.20 L124.80,161.20 L125.05,161.20 L125.30,161.20 L125.55,161.20 L125.80,161.20 L126.05,161.20 L126.30,161.20 L126.55,161.20 L126.80,161.20 L127.05,161.20 L127.30,161.20 L127.55,161.20 L127.80,161.20 L128.05,161.20 L128.30,161.20 L128.55,161.20 L128.80,161.20 L129.05,161.20 L129.30,161.20 L129.55,161.20 L129.80,161.20 L130.05,161.20 L130.30,161.20 L130.55,161.20 L130.80,161.20 L131.05,161.20 L131.30,161.20 L131.55,161.20 L131.80,161.20 L132.05,161.20 L132.30,161.20 L132.55,161.20 L132.80,161.20 L133.05,161.20 L133.30,161.20 L133.55,161.20 L133.80,161.20 L134.05,161.20 L134.30,161.20 L134.55,161.20 L134.80,161.20 L135.05,161.20 L135.30,161.20 L135.55,161.20 L135.80,161.20 L136.05,161.20 L136.30,161.20 L136.55,161.20 L136.80,161.20 L137.05,161.20 L137.30,161.20 L137.55,161.20 L137.80,161.20 L138.05,161.20 L138.30,161.20 L138.55,161.20 L138.80,161.20 L139.05,161.20 L139.30,161.20 L139.55,161.20 L139.80,161.20 L140.05,161.20 L140.30,161.20 L140.55,161.20 L140.80,161.20 L141.05,161.20 L141.30,161.20 L141.55,161.20 L141.80,161.20 L142.05,161.20 L142.30,161.20 L142.55,161.20 L142.80,161.20 L143.05,161.20 L143.30,161.20 L143.55,161.20 L143.80,161.20 L144.05,161.20 L144.30,161.20 L144.55,161.20 L144.80,161.20 L145.05,161.20 L145.30,161.20 L145.55,161.20 L145.80,161.20 L146.05,161.20 L146.30,161.20 L146.55,161.20 L146.80,161.20 L147.05,161.20 L147.30,161.20 L147.55,161.20 L147.80,161.20 L148.05,161.20 L148.30,161.20 L148.55,161.20 L148.80,161.20 L149.05,161.20 L149.30,161.20 L149.55,161.20 L149.80,161.20 L150.05,161.20 L150.30,161.20 L150.55,161.20 L150.80,161.20 L151.05,161.20 L151.30,161.20 L151.55,161.20 L151.80,161.20 L152.05,161.20 L152.30,161.20 L152.55,161.20 L152.80,161.20 L153.05,161.20 L153.30,161.20 L153.55,161.20 L153.80,161.20 L154.05,161.20 L154.30,161.20 L154.55,161.20 L154.80,161.20 L155.05,161.20 L155.30,161.20 L155.55,161.20 L155.80,161.20 L156.05,161.20 L156.30,161.20 L156.55,161.20 L156.80,161.20 L157.05,161.20 L157.30,161.20 L157.55,161.20 L157.80,161.20 L158.05,161.20 L158.30,161.20 L158.55,161.20 L158.80,161.20 L159.05,161.20 L159.30,161.20 L159.55,161.20 L159.80,161.20 L160.05,161.20 L160.30,161.20 L160.55,161.20 L160.80,161.20 L161.05,161.20 L161.30,161.20 L161.55,161.20 L161.80,161.20 L162.05,161.20 L162.30,161.20 L162.55,161.20 L162.80,161.20 L163.05,161.20 L163.30,161.20 L163.55,161.20 L163.80,161.20 L164.05,161.20 L164.30,161.20 L164.55,161.20 L164.80,161.20 L165.05,161.20 L165.30,161.20 L165.55,161.20 L165.80,161.20 L166.05,161.20 L166.30,161.20 L166.55,161.20 L166.80,161.20 L167.05,161.20 L167.30,161.20 L167.55,161.20 L167.80,161.20 L168.05,161.20 L168.30,161.20 L168.55,161.20 L168.80,161.20 L169.05,161.20 L169.30,161.20 L169.55,161.20 L169.80,161.20 L170.05,161.20 L170.30,161.20 L170.55,161.20 L170.80,161.20 L171.05,161.20 L171.30,161.20 L171.55,161.20 L171.80,161.20 L172.05,159.83 L172.30,158.40 L172.55,156.21 L172.80,153.68 L173.05,151.49 L173.30,148.80 L173.55,148.54 L173.80,147.69 L174.05,147.00 L174.30,145.60 L174.55,144.81 L174.70,143.50 L174.80,144.57 L175.05,144.46 L175.30,144.63 L175.55,144.20 L175.70,144.00 L175.80,145.71 L176.05,146.55 L176.30,148.82 L176.50,149.80 L176.55,149.89 L176.80,148.83 L177.05,147.31 L177.30,146.14 L177.55,145.25 L177.60,144.50 L177.80,145.20 L178.05,145.05 L178.30,145.01 L178.55,145.66 L178.60,145.00 L178.80,147.71 L179.05,150.56 L179.30,153.60 L179.55,154.58 L179.80,155.38 L180.05,156.07 L180.30,156.50 L180.55,155.41 L180.80,154.25 L181.05,152.90 L181.30,151.76 L181.50,150.70 L181.55,149.96 L181.80,143.53 L182.05,136.94 L182.20,131.50 L182.30,131.44 L182.55,125.75 L182.80,120.76 L182.90,118.50 L183.05,118.87 L183.30,120.92 L183.55,119.23 L183.80,120.98 L183.90,119.00 L184.05,121.01 L184.30,120.63 L184.55,122.98 L184.80,120.90 L185.05,125.26 L185.30,125.17 L185.55,128.39 L185.80,128.60 L186.05,132.93 L186.30,135.38 L186.55,138.14 L186.60,138.20 L186.80,142.96 L187.00,145.00 L187.05,146.27 L187.30,148.74 L187.55,151.28 L187.80,153.60 L188.05,153.91 L188.30,153.59 L188.55,153.27 L188.80,153.47 L189.05,153.27 L189.30,153.40 L189.55,153.20 L189.70,152.70 L189.80,152.85 L190.05,153.06 L190.30,152.45 L190.55,152.31 L190.80,152.69 L191.05,152.03 L191.30,152.27 L191.55,151.88 L191.60,151.70 L191.80,151.59 L192.05,151.57 L192.30,150.96 L192.55,150.63 L192.60,150.30 L192.80,150.97 L193.05,152.00 L193.30,152.32 L193.50,152.70 L193.55,152.86 L193.80,153.69 L194.05,154.42 L194.30,155.26 L194.55,155.75 L194.80,156.45 L194.90,156.50 L195.05,156.83 L195.30,157.23 L195.55,157.65 L195.80,158.13 L196.05,158.41 L196.30,158.80 L196.40,158.90 L196.55,159.14 L196.80,159.22 L197.05,159.43 L197.30,159.67 L197.55,159.77 L197.80,160.03 L198.05,160.19 L198.30,160.34 L198.55,160.53 L198.80,160.70 L199.05,160.82 L199.30,160.92 L199.55,161.02 L199.80,161.12 L200.00,161.20 L200.05,161.20 L200.30,161.20 L200.55,161.20 L200.80,161.20 L201.05,161.20 L201.30,161.20 L201.55,161.20 L201.80,161.20 L202.05,161.20 L202.30,161.20 L202.55,161.20 L202.80,161.20 L203.05,161.20 L203.30,161.20 L203.55,161.20 L203.80,161.20 L204.05,161.20 L204.30,161.20 L204.55,161.20 L204.80,161.20 L205.05,161.20 L205.30,161.20 L205.55,161.20 L205.80,161.20 L206.05,161.20 L206.30,161.20 L206.55,161.20 L206.80,161.20 L207.05,161.20 L207.30,161.20 L207.55,161.20 L207.80,161.20 L208.05,161.20 L208.30,161.20 L208.55,161.20 L208.80,161.20 L209.05,161.20 L209.30,161.20 L209.55,161.20 L209.80,161.20 L210.05,161.20 L210.30,161.20 L210.55,161.20 L210.80,161.20 L211.05,161.20 L211.30,161.20 L211.55,161.20 L211.80,161.20 L212.05,161.20 L212.30,161.20 L212.55,161.20 L212.80,161.20 L213.05,161.20 L213.30,161.20 L213.55,161.20 L213.80,161.20 L214.05,161.20 L214.30,161.20 L214.55,161.20 L214.80,161.20 L215.05,161.20 L215.30,161.20 L215.55,161.20 L215.80,161.20 L216.05,161.20 L216.30,161.20 L216.55,161.20 L216.80,161.20 L217.05,161.20 L217.30,161.20 L217.55,161.20 L217.80,161.20 L218.05,161.20 L218.30,161.20 L218.55,161.20 L218.80,161.20 L219.05,161.20 L219.30,161.20 L219.55,161.20 L219.80,161.20 L220.05,161.20 L220.30,161.20 L220.55,161.20 L220.80,161.20 L221.05,161.20 L221.30,161.20 L221.55,161.20 L221.80,161.20 L222.05,161.20 L222.30,161.20 L222.55,161.20 L222.80,161.20 L223.05,161.20 L223.30,161.20 L223.55,161.20 L223.80,161.20 L224.05,161.20 L224.30,161.20 L224.55,161.20 L224.80,161.20 L225.05,161.20 L225.30,161.20 L225.55,161.20 L225.80,161.20 L226.05,161.20 L226.30,161.20 L226.55,161.20 L226.80,161.20 L227.05,161.20 L227.30,161.20 L227.55,161.20 L227.80,161.20 L228.05,161.20 L228.30,161.20 L228.55,161.20 L228.80,161.20 L229.05,161.20 L229.30,161.20 L229.55,161.20 L229.80,161.20 L230.05,161.20 L230.30,161.20 L230.55,161.20 L230.80,161.20 L231.05,161.20 L231.30,161.20 L231.55,161.20 L231.80,161.20 L232.05,161.20 L232.30,161.20 L232.55,161.20 L232.80,161.20 L233.05,161.20 L233.30,161.20 L233.55,161.20 L233.80,161.20 L234.05,161.20 L234.30,161.20 L234.55,161.20 L234.80,161.20 L235.05,161.20 L235.30,161.20 L235.55,161.20 L235.80,161.20 L236.05,161.20 L236.30,161.20 L236.55,161.20 L236.80,161.20 L237.05,161.20 L237.30,161.20 L237.55,161.20 L237.80,161.20 L238.05,161.20 L238.30,161.20 L238.55,161.20 L238.80,161.20 L239.05,161.20 L239.30,161.20 L239.55,161.20 L239.80,161.20 L240.05,161.20 L240.30,161.20 L240.55,161.20 L240.80,161.20 L241.05,161.20 L241.30,161.20 L241.55,161.20 L241.80,161.20 L242.05,161.20 L242.30,161.20 L242.55,161.20 L242.80,161.20 L243.05,161.20 L243.30,161.20 L243.55,161.20 L243.80,161.20 L244.05,161.20 L244.30,161.20 L244.55,161.20 L244.80,161.20 L245.05,161.20 L245.30,161.20 L245.55,161.20 L245.80,161.20 L246.05,161.20 L246.30,161.20 L246.55,161.20 L246.80,161.20 L247.05,161.20 L247.30,161.20 L247.55,161.20 L247.80,161.20 L248.05,161.20 L248.30,161.20 L248.55,161.20 L248.80,161.20 L249.05,161.20 L249.30,161.20 L249.55,161.20 L249.80,161.20 L250.05,161.20 L250.30,161.20 L250.55,161.20 L250.80,161.20 L251.05,161.20 L251.30,161.20 L251.55,161.20 L251.80,161.20 L252.05,161.20 L252.30,161.20 L252.55,161.20 L252.80,161.20 L253.05,161.20 L253.30,161.20 L253.55,161.20 L253.80,161.20 L254.05,161.20 L254.30,161.20 L254.55,161.20 L254.80,161.20 L255.05,161.20 L255.30,161.20 L255.55,161.20 L255.80,161.20 L256.05,161.20 L256.30,161.20 L256.55,161.20 L256.80,161.20 L257.05,161.20 L257.30,161.20 L257.55,161.20 L257.80,161.20 L258.05,161.20 L258.30,161.20 L258.55,161.20 L258.80,161.20 L259.05,161.20 L259.30,161.20 L259.55,161.20 L259.80,161.20 L260.05,161.20 L260.30,161.20 L260.55,161.20 L260.80,161.20 L261.05,161.20 L261.30,161.20 L261.55,161.20 L261.80,161.20 L262.05,161.20 L262.30,161.20 L262.55,161.20 L262.80,161.20 L263.05,161.20 L263.30,161.20 L263.55,161.20 L263.80,161.20 L264.05,161.20 L264.30,161.20 L264.55,161.20 L264.80,161.20 L265.05,161.20 L265.30,161.20 L265.55,161.20 L265.80,161.20 L266.05,161.20 L266.30,161.20 L266.55,161.20 L266.80,161.20 L267.05,161.20 L267.30,161.20 L267.55,161.20 L267.80,161.20 L268.05,161.20 L268.30,161.20 L268.55,161.20 L268.80,161.20 L269.05,161.20 L269.30,161.20 L269.55,161.20 L269.80,161.20 L270.05,161.20 L270.30,161.20 L270.55,161.20 L270.80,161.20 L271.05,161.20 L271.30,161.20 L271.55,161.20 L271.80,161.20 L272.05,161.20 L272.30,161.20 L272.55,161.20 L272.80,161.20 L273.05,161.20 L273.30,161.20 L273.55,161.20 L273.80,161.20 L274.05,161.20 L274.30,161.20 L274.55,161.20 L274.80,161.20 L275.05,161.20 L275.30,161.20 L275.55,161.20 L275.80,161.20 L276.05,161.20 L276.30,161.20 L276.55,161.20 L276.80,161.20 L277.05,161.20 L277.30,161.20 L277.55,161.20 L277.80,161.20 L278.05,161.20 L278.30,161.20 L278.55,161.20 L278.80,161.20 L279.05,161.20 L279.30,161.20 L279.55,161.20 L279.80,161.20 L280.05,161.20 L280.30,161.20 L280.55,161.20 L280.80,161.20 L281.05,161.20 L281.30,161.20 L281.55,161.20 L281.80,161.20 L282.05,161.20 L282.30,161.20 L282.55,161.20 L282.80,161.20 L283.05,161.20 L283.30,161.20 L283.55,161.20 L283.80,161.20 L284.05,161.20 L284.30,161.20 L284.55,161.20 L284.70,161.20 L284.70,161.20 Z" fill="#00ff00" stroke="none"/>
<line x1="79.30" y1="209.00" x2="284.70" y2="209.00" stroke="#ff0000" stroke-width="1.2"/>
<path d="M79.30,209.00 L79.30,209.00 L79.55,209.00 L79.80,209.00 L80.05,209.00 L80.30,209.00 L80.55,209.00 L80.80,209.00 L81.05,209.00 L81.30,209.00 L81.55,209.00 L81.80,209.00 L82.05,209.00 L82.30,209.00 L82.55,209.00 L82.80,209.00 L83.05,209.00 L83.30,209.00 L83.55,209.00 L83.80,209.00 L84.05,209.00 L84.30,209.00 L84.55,209.00 L84.80,209.00 L85.05,209.00 L85.30,209.00 L85.55,209.00 L85.80,209.00 L86.05,209.00 L86.30,209.00 L86.55,209.00 L86.80,209.00 L87.05,209.00 L87.30,209.00 L87.55,209.00 L87.80,209.00 L88.05,209.00 L88.30,209.00 L88.55,209.00 L88.80,209.00 L89.05,209.00 L89.30,209.00 L89.55,209.00 L89.80,209.00 L90.05,209.00 L90.30,209.00 L90.55,209.00 L90.80,209.00 L91.05,209.00 L91.30,209.00 L91.55,209.00 L91.80,209.00 L92.05,209.00 L92.30,209.00 L92.55,209.00 L92.80,209.00 L93.05,209.00 L93.30,209.00 L93.55,209.00 L93.80,209.00 L94.05,209.00 L94.30,209.00 L94.55,209.00 L94.80,209.00 L95.05,209.00 L95.30,209.00 L95.55,209.00 L95.80,209.00 L96.05,209.00 L96.30,209.00 L96.55,209.00 L96.80,209.00 L97.05,209.00 L97.30,209.00 L97.55,209.00 L97.80,209.00 L98.05,209.00 L98.30,209.00 L98.55,209.00 L98.80,209.00 L99.05,209.00 L99.30,209.00 L99.55,209.00 L99.80,209.00 L100.05,209.00 L100.30,209.00 L100.55,209.00 L100.80,209.00 L101.05,209.00 L101.30,209.00 L101.55,209.00 L101.80,209.00 L102.05,209.00 L102.30,209.00 L102.55,209.00 L102.80,209.00 L103.05,209.00 L103.30,209.00 L103.55,209.00 L103.80,209.00 L104.05,209.00 L104.30,209.00 L104.55,209.00 L104.80,209.00 L105.05,209.00 L105.30,209.00 L105.55,209.00 L105.80,209.00 L106.05,209.00 L106.30,209.00 L106.55,209.00 L106.80,209.00 L107.05,209.00 L107.30,209.00 L107.55,209.00 L107.80,209.00 L108.05,209.00 L108.30,209.00 L108.55,209.00 L108.80,209.00 L109.05,209.00 L109.30,209.00 L109.55,209.00 L109.80,209.00 L110.05,209.00 L110.30,209.00 L110.55,209.00 L110.80,209.00 L111.05,209.00 L111.30,209.00 L111.55,209.00 L111.80,209.00 L112.05,209.00 L112.30,209.00 L112.55,209.00 L112.80,209.00 L113.05,209.00 L113.30,209.00 L113.55,209.00 L113.80,209.00 L114.05,209.00 L114.30,209.00 L114.55,209.00 L114.80,209.00 L115.05,209.00 L115.30,209.00 L115.55,209.00 L115.80,209.00 L116.05,209.00 L116.30,209.00 L116.55,209.00 L116.80,209.00 L117.05,209.00 L117.30,209.00 L117.55,209.00 L117.80,209.00 L118.05,209.00 L118.30,209.00 L118.55,209.00 L118.80,209.00 L119.05,209.00 L119.30,209.00 L119.55,209.00 L119.80,209.00 L120.05,209.00 L120.30,209.00 L120.55,209.00 L120.80,209.00 L121.05,209.00 L121.30,209.00 L121.55,209.00 L121.80,209.00 L122.05,209.00 L122.30,209.00 L122.55,209.00 L122.80,209.00 L123.05,209.00 L123.30,209.00 L123.55,209.00 L123.80,209.00 L124.05,209.00 L124.30,209.00 L124.55,209.00 L124.80,209.00 L125.05,209.00 L125.30,209.00 L125.55,209.00 L125.80,209.00 L126.05,209.00 L126.30,209.00 L126.55,209.00 L126.80,209.00 L127.05,209.00 L127.30,209.00 L127.55,209.00 L127.80,209.00 L128.05,209.00 L128.30,209.00 L128.55,209.00 L128.80,209.00 L129.05,209.00 L129.30,209.00 L129.55,209.00 L129.80,209.00 L130.05,209.00 L130.30,209.00 L130.55,209.00 L130.80,209.00 L131.05,209.00 L131.30,209.00 L131.55,209.00 L131.80,209.00 L132.05,209.00 L132.30,209.00 L132.55,209.00 L132.80,209.00 L133.05,209.00 L133.30,209.00 L133.55,209.00 L133.80,209.00 L134.05,209.00 L134.30,209.00 L134.55,209.00 L134.80,209.00 L135.05,209.00 L135.30,209.00 L135.55,209.00 L135.80,209.00 L136.05,209.00 L136.30,209.00 L136.55,209.00 L136.80,209.00 L137.05,209.00 L137.30,209.00 L137.55,209.00 L137.80,209.00 L138.05,209.00 L138.30,209.00 L138.55,209.00 L138.80,209.00 L139.05,209.00 L139.30,209.00 L139.55,209.00 L139.80,209.00 L140.05,209.00 L140.30,209.00 L140.55,209.00 L140.80,209.00 L141.05,209.00 L141.30,209.00 L141.55,209.00 L141.80,209.00 L142.05,209.00 L142.30,209.00 L142.55,209.00 L142.80,209.00 L143.05,209.00 L143.30,209.00 L143.55,209.00 L143.80,209.00 L144.05,209.00 L144.30,209.00 L144.55,209.00 L144.80,209.00 L145.05,209.00 L145.30,209.00 L145.55,209.00 L145.80,209.00 L146.05,209.00 L146.30,209.00 L146.55,209.00 L146.80,209.00 L147.05,209.00 L147.30,209.00 L147.55,209.00 L147.80,209.00 L148.05,209.00 L148.30,209.00 L148.55,209.00 L148.80,209.00 L149.05,209.00 L149.30,209.00 L149.55,209.00 L149.80,209.00 L150.05,209.00 L150.30,209.00 L150.55,209.00 L150.80,209.00 L151.05,209.00 L151.30,209.00 L151.55,209.00 L151.80,209.00 L152.05,209.00 L152.30,209.00 L152.55,209.00 L152.80,209.00 L153.05,209.00 L153.30,209.00 L153.55,209.00 L153.80,209.00 L154.05,209.00 L154.30,209.00 L154.55,209.00 L154.80,209.00 L155.05,209.00 L155.30,209.00 L155.55,209.00 L155.80,209.00 L156.05,209.00 L156.30,209.00 L156.55,209.00 L156.80,209.00 L157.05,209.00 L157.30,209.00 L157.55,209.00 L157.80,209.00 L158.05,209.00 L158.30,209.00 L158.55,209.00 L158.80,209.00 L159.05,209.00 L159.30,209.00 L159.55,209.00 L159.80,209.00 L160.05,209.00 L160.30,209.00 L160.55,209.00 L160.80,209.00 L161.05,209.00 L161.30,209.00 L161.55,209.00 L161.80,209.00 L162.05,209.00 L162.30,209.00 L162.55,209.00 L162.80,209.00 L163.05,209.00 L163.30,209.00 L163.55,209.00 L163.80,209.00 L164.05,209.00 L164.30,209.00 L164.55,209.00 L164.80,209.00 L165.05,209.00 L165.30,209.00 L165.55,209.00 L165.80,209.00 L166.05,209.00 L166.30,209.00 L166.55,209.00 L166.80,209.00 L167.05,209.00 L167.30,209.00 L167.55,209.00 L167.80,209.00 L168.05,209.00 L168.30,209.00 L168.55,209.00 L168.80,209.00 L169.05,209.00 L169.30,209.00 L169.55,209.00 L169.80,209.00 L170.05,209.00 L170.30,209.00 L170.55,209.00 L170.80,209.00 L171.05,209.00 L171.30,209.00 L171.55,209.00 L171.80,209.00 L172.05,209.00 L172.30,209.00 L172.55,209.00 L172.80,209.00 L173.05,209.00 L173.30,209.00 L173.55,209.00 L173.80,209.00 L174.05,209.00 L174.30,209.00 L174.55,209.00 L174.80,209.00 L175.05,209.00 L175.30,209.00 L175.55,209.00 L175.80,209.00 L176.05,209.00 L176.30,209.00 L176.50,209.00 L176.55,208.81 L176.80,207.80 L177.05,206.93 L177.30,205.99 L177.50,205.00 L177.55,204.65 L177.80,202.68 L178.05,201.05 L178.30,198.93 L178.50,197.00 L178.55,197.46 L178.80,197.38 L179.05,197.94 L179.30,197.54 L179.55,197.53 L179.80,197.88 L180.05,197.84 L180.30,197.95 L180.50,198.00 L180.55,198.29 L180.80,196.93 L181.05,195.95 L181.30,195.21 L181.50,194.00 L181.55,193.40 L181.80,184.81 L182.05,176.13 L182.20,171.00 L182.30,172.88 L182.55,172.05 L182.80,171.46 L183.05,172.32 L183.30,173.88 L183.55,172.39 L183.80,171.50 L184.05,172.15 L184.30,169.15 L184.55,168.36 L184.80,166.00 L185.05,168.08 L185.30,166.31 L185.55,167.13 L185.80,167.99 L186.00,166.00 L186.05,168.18 L186.30,176.45 L186.50,183.00 L186.55,183.97 L186.80,187.89 L187.05,192.06 L187.20,194.00 L187.30,194.32 L187.55,194.42 L187.80,194.50 L188.05,194.01 L188.30,194.68 L188.50,194.00 L188.55,194.36 L188.80,190.48 L189.05,187.63 L189.30,184.41 L189.50,181.00 L189.55,181.64 L189.80,181.62 L190.05,181.01 L190.30,180.58 L190.50,178.00 L190.55,178.82 L190.80,180.29 L191.05,182.43 L191.30,185.17 L191.50,185.00 L191.55,185.30 L191.80,186.87 L192.05,188.66 L192.30,190.65 L192.55,190.80 L192.80,192.38 L193.00,193.00 L193.05,193.72 L193.30,195.78 L193.55,196.54 L193.80,198.56 L194.05,199.65 L194.30,201.29 L194.50,202.00 L194.55,202.47 L194.80,203.05 L195.05,203.92 L195.30,204.72 L195.55,205.67 L195.80,206.45 L196.00,207.00 L196.05,207.10 L196.30,207.41 L196.55,207.61 L196.80,207.80 L197.05,208.07 L197.30,208.31 L197.50,208.50 L197.55,208.54 L197.80,208.61 L198.05,208.69 L198.30,208.77 L198.55,208.86 L198.80,208.94 L199.00,209.00 L199.05,209.00 L199.30,209.00 L199.55,209.00 L199.80,209.00 L200.05,209.00 L200.30,209.00 L200.55,209.00 L200.80,209.00 L201.05,209.00 L201.30,209.00 L201.55,209.00 L201.80,209.00 L202.05,209.00 L202.30,209.00 L202.55,209.00 L202.80,209.00 L203.05,209.00 L203.30,209.00 L203.55,209.00 L203.80,209.00 L204.05,209.00 L204.30,209.00 L204.55,209.00 L204.80,209.00 L205.05,209.00 L205.30,209.00 L205.55,209.00 L205.80,209.00 L206.05,209.00 L206.30,209.00 L206.55,209.00 L206.80,209.00 L207.05,209.00 L207.30,209.00 L207.55,209.00 L207.80,209.00 L208.05,209.00 L208.30,209.00 L208.55,209.00 L208.80,209.00 L209.05,209.00 L209.30,209.00 L209.55,209.00 L209.80,209.00 L210.05,209.00 L210.30,209.00 L210.55,209.00 L210.80,209.00 L211.05,209.00 L211.30,209.00 L211.55,209.00 L211.80,209.00 L212.05,209.00 L212.30,209.00 L212.55,209.00 L212.80,209.00 L213.05,209.00 L213.30,209.00 L213.55,209.00 L213.80,209.00 L214.05,209.00 L214.30,209.00 L214.55,209.00 L214.80,209.00 L215.05,209.00 L215.30,209.00 L215.55,209.00 L215.80,209.00 L216.05,209.00 L216.30,209.00 L216.55,209.00 L216.80,209.00 L217.05,209.00 L217.30,209.00 L217.55,209.00 L217.80,209.00 L218.05,209.00 L218.30,209.00 L218.55,209.00 L218.80,209.00 L219.05,209.00 L219.30,209.00 L219.55,209.00 L219.80,209.00 L220.05,209.00 L220.30,209.00 L220.55,209.00 L220.80,209.00 L221.05,209.00 L221.30,209.00 L221.55,209.00 L221.80,209.00 L222.05,209.00 L222.30,209.00 L222.55,209.00 L222.80,209.00 L223.05,209.00 L223.30,209.00 L223.55,209.00 L223.80,209.00 L224.05,209.00 L224.30,209.00 L224.55,209.00 L224.80,209.00 L225.05,209.00 L225.30,209.00 L225.55,209.00 L225.80,209.00 L226.05,209.00 L226.30,209.00 L226.55,209.00 L226.80,209.00 L227.05,209.00 L227.30,209.00 L227.55,209.00 L227.80,209.00 L228.05,209.00 L228.30,209.00 L228.55,209.00 L228.80,209.00 L229.05,209.00 L229.30,209.00 L229.55,209.00 L229.80,209.00 L230.05,209.00 L230.30,209.00 L230.55,209.00 L230.80,209.00 L231.05,209.00 L231.30,209.00 L231.55,209.00 L231.80,209.00 L232.05,209.00 L232.30,209.00 L232.55,209.00 L232.80,209.00 L233.05,209.00 L233.30,209.00 L233.55,209.00 L233.80,209.00 L234.05,209.00 L234.30,209.00 L234.55,209.00 L234.80,209.00 L235.05,209.00 L235.30,209.00 L235.55,209.00 L235.80,209.00 L236.05,209.00 L236.30,209.00 L236.55,209.00 L236.80,209.00 L237.05,209.00 L237.30,209.00 L237.55,209.00 L237.80,209.00 L238.05,209.00 L238.30,209.00 L238.55,209.00 L238.80,209.00 L239.05,209.00 L239.30,209.00 L239.55,209.00 L239.80,209.00 L240.05,209.00 L240.30,209.00 L240.55,209.00 L240.80,209.00 L241.05,209.00 L241.30,209.00 L241.55,209.00 L241.80,209.00 L242.05,209.00 L242.30,209.00 L242.55,209.00 L242.80,209.00 L243.05,209.00 L243.30,209.00 L243.55,209.00 L243.80,209.00 L244.05,209.00 L244.30,209.00 L244.55,209.00 L244.80,209.00 L245.05,209.00 L245.30,209.00 L245.55,209.00 L245.80,209.00 L246.05,209.00 L246.30,209.00 L246.55,209.00 L246.80,209.00 L247.05,209.00 L247.30,209.00 L247.55,209.00 L247.80,209.00 L248.05,209.00 L248.30,209.00 L248.55,209.00 L248.80,209.00 L249.05,209.00 L249.30,209.00 L249.55,209.00 L249.80,209.00 L250.05,209.00 L250.30,209.00 L250.55,209.00 L250.80,209.00 L251.05,209.00 L251.30,209.00 L251.55,209.00 L251.80,209.00 L252.05,209.00 L252.30,209.00 L252.55,209.00 L252.80,209.00 L253.05,209.00 L253.30,209.00 L253.55,209.00 L253.80,209.00 L254.05,209.00 L254.30,209.00 L254.55,209.00 L254.80,209.00 L255.05,209.00 L255.30,209.00 L255.55,209.00 L255.80,209.00 L256.05,209.00 L256.30,209.00 L256.55,209.00 L256.80,209.00 L257.05,209.00 L257.30,209.00 L257.55,209.00 L257.80,209.00 L258.05,209.00 L258.30,209.00 L258.55,209.00 L258.80,209.00 L259.05,209.00 L259.30,209.00 L259.55,209.00 L259.80,209.00 L260.05,209.00 L260.30,209.00 L260.55,209.00 L260.80,209.00 L261.05,209.00 L261.30,209.00 L261.55,209.00 L261.80,209.00 L262.05,209.00 L262.30,209.00 L262.55,209.00 L262.80,209.00 L263.05,209.00 L263.30,209.00 L263.55,209.00 L263.80,209.00 L264.05,209.00 L264.30,209.00 L264.55,209.00 L264.80,209.00 L265.05,209.00 L265.30,209.00 L265.55,209.00 L265.80,209.00 L266.05,209.00 L266.30,209.00 L266.55,209.00 L266.80,209.00 L267.05,209.00 L267.30,209.00 L267.55,209.00 L267.80,209.00 L268.05,209.00 L268.30,209.00 L268.55,209.00 L268.80,209.00 L269.05,209.00 L269.30,209.00 L269.55,209.00 L269.80,209.00 L270.05,209.00 L270.30,209.00 L270.55,209.00 L270.80,209.00 L271.05,209.00 L271.30,209.00 L271.55,209.00 L271.80,209.00 L272.05,209.00 L272.30,209.00 L272.55,209.00 L272.80,209.00 L273.05,209.00 L273.30,209.00 L273.55,209.00 L273.80,209.00 L274.05,209.00 L274.30,209.00 L274.55,209.00 L274.80,209.00 L275.05,209.00 L275.30,209.00 L275.55,209.00 L275.80,209.00 L276.05,209.00 L276.30,209.00 L276.55,209.00 L276.80,209.00 L277.05,209.00 L277.30,209.00 L277.55,209.00 L277.80,209.00 L278.05,209.00 L278.30,209.00 L278.55,209.00 L278.80,209.00 L279.05,209.00 L279.30,209.00 L279.55,209.00 L279.80,209.00 L280.05,209.00 L280.30,209.00 L280.55,209.00 L280.80,209.00 L281.05,209.00 L281.30,209.00 L281.55,209.00 L281.80,209.00 L282.05,209.00 L282.30,209.00 L282.55,209.00 L282.80,209.00 L283.05,209.00 L283.30,209.00 L283.55,209.00 L283.80,209.00 L284.05,209.00 L284.30,209.00 L284.55,209.00 L284.70,209.00 L284.70,209.00 Z" fill="#ff0000" stroke="none"/>
<text x="252.20" y="50.50" font-size="12.6" text-anchor="start" fill="#00ffff" stroke="#00ffff" stroke-width="0.15" textLength="47.4" lengthAdjust="spacingAndGlyphs">I = 1.8 A</text>
<text x="251.10" y="103.00" font-size="12.6" text-anchor="start" fill="#0000ff" stroke="#0000ff" stroke-width="0.15" textLength="47.6" lengthAdjust="spacingAndGlyphs">I = 1.5 A</text>
<text x="250.80" y="153.00" font-size="12.6" text-anchor="start" fill="#00ff00" stroke="#00ff00" stroke-width="0.15" textLength="47.0" lengthAdjust="spacingAndGlyphs">I = 1.2 A</text>
<text x="250.80" y="201.60" font-size="12.6" text-anchor="start" fill="#ff0000" stroke="#ff0000" stroke-width="0.15" textLength="46.8" lengthAdjust="spacingAndGlyphs">I = 0.9 A</text>
<line x1="47.05" y1="271.00" x2="316.20" y2="271.00" stroke="#5a5a5a" stroke-width="1.6"/>
<line x1="48.05" y1="270.20" x2="48.05" y2="487.80" stroke="#6a6a6a" stroke-width="2.0"/>
<line x1="315.20" y1="270.20" x2="315.20" y2="487.80" stroke="#4a4a4a" stroke-width="1.9"/>
<line x1="47.05" y1="487.45" x2="316.20" y2="487.45" stroke="#0a0a0a" stroke-width="1.2"/>
<line x1="48.61" y1="487.30" x2="48.61" y2="484.90" stroke="#161616" stroke-width="1.2"/>
<line x1="48.61" y1="271.00" x2="48.61" y2="273.40" stroke="#161616" stroke-width="1.2"/>
<line x1="67.60" y1="487.30" x2="67.60" y2="483.50" stroke="#161616" stroke-width="1.2"/>
<line x1="67.60" y1="271.00" x2="67.60" y2="274.80" stroke="#161616" stroke-width="1.2"/>
<text x="67.60" y="501.50" font-size="12.0" text-anchor="middle" fill="#1e1e1e" stroke="#1e1e1e" stroke-width="0.12" >-90</text>
<line x1="86.59" y1="487.30" x2="86.59" y2="484.90" stroke="#161616" stroke-width="1.2"/>
<line x1="86.59" y1="271.00" x2="86.59" y2="273.40" stroke="#161616" stroke-width="1.2"/>
<line x1="105.58" y1="487.30" x2="105.58" y2="483.50" stroke="#161616" stroke-width="1.2"/>
<line x1="105.58" y1="271.00" x2="105.58" y2="274.80" stroke="#161616" stroke-width="1.2"/>
<text x="105.58" y="501.50" font-size="12.0" text-anchor="middle" fill="#1e1e1e" stroke="#1e1e1e" stroke-width="0.12" >-60</text>
<line x1="124.58" y1="487.30" x2="124.58" y2="484.90" stroke="#161616" stroke-width="1.2"/>
<line x1="124.58" y1="271.00" x2="124.58" y2="273.40" stroke="#161616" stroke-width="1.2"/>
<line x1="143.57" y1="487.30" x2="143.57" y2="483.50" stroke="#161616" stroke-width="1.2"/>
<line x1="143.57" y1="271.00" x2="143.57" y2="274.80" stroke="#161616" stroke-width="1.2"/>
<text x="143.57" y="501.50" font-size="12.0" text-anchor="middle" fill="#1e1e1e" stroke="#1e1e1e" stroke-width="0.12" >-30</text>
<line x1="162.56" y1="487.30" x2="162.56" y2="484.90" stroke="#161616" stroke-width="1.2"/>
<line x1="162.56" y1="271.00" x2="162.56" y2="273.40" stroke="#161616" stroke-width="1.2"/>
<line x1="181.55" y1="487.30" x2="181.55" y2="483.50" stroke="#161616" stroke-width="1.2"/>
<line x1="181.55" y1="271.00" x2="181.55" y2="274.80" stroke="#161616" stroke-width="1.2"/>
<text x="181.55" y="501.50" font-size="12.0" text-anchor="middle" fill="#1e1e1e" stroke="#1e1e1e" stroke-width="0.12" >0</text>
<line x1="200.54" y1="487.30" x2="200.54" y2="484.90" stroke="#161616" stroke-width="1.2"/>
<line x1="200.54" y1="271.00" x2="200.54" y2="273.40" stroke="#161616" stroke-width="1.2"/>
<line x1="219.53" y1="487.30" x2="219.53" y2="483.50" stroke="#161616" stroke-width="1.2"/>
<line x1="219.53" y1="271.00" x2="219.53" y2="274.80" stroke="#161616" stroke-width="1.2"/>
<text x="219.53" y="501.50" font-size="12.0" text-anchor="middle" fill="#1e1e1e" stroke="#1e1e1e" stroke-width="0.12" >30</text>
<line x1="238.52" y1="487.30" x2="238.52" y2="484.90" stroke="#161616" stroke-width="1.2"/>
<line x1="238.52" y1="271.00" x2="238.52" y2="273.40" stroke="#161616" stroke-width="1.2"/>
<line x1="257.52" y1="487.30" x2="257.52" y2="483.50" stroke="#161616" stroke-width="1.2"/>
<line x1="257.52" y1="271.00" x2="257.52" y2="274.80" stroke="#161616" stroke-width="1.2"/>
<text x="257.52" y="501.50" font-size="12.0" text-anchor="middle" fill="#1e1e1e" stroke="#1e1e1e" stroke-width="0.12" >60</text>
<line x1="276.51" y1="487.30" x2="276.51" y2="484.90" stroke="#161616" stroke-width="1.2"/>
<line x1="276.51" y1="271.00" x2="276.51" y2="273.40" stroke="#161616" stroke-width="1.2"/>
<line x1="295.50" y1="487.30" x2="295.50" y2="483.50" stroke="#161616" stroke-width="1.2"/>
<line x1="295.50" y1="271.00" x2="295.50" y2="274.80" stroke="#161616" stroke-width="1.2"/>
<text x="295.50" y="501.50" font-size="12.0" text-anchor="middle" fill="#1e1e1e" stroke="#1e1e1e" stroke-width="0.12" >90</text>
<line x1="314.49" y1="487.30" x2="314.49" y2="484.90" stroke="#161616" stroke-width="1.2"/>
<line x1="314.49" y1="271.00" x2="314.49" y2="273.40" stroke="#161616" stroke-width="1.2"/>
<line x1="48.05" y1="475.30" x2="52.25" y2="475.30" stroke="#161616" stroke-width="1.2"/>
<line x1="315.20" y1="475.30" x2="311.00" y2="475.30" stroke="#161616" stroke-width="1.2"/>
<text x="43.90" y="478.80" font-size="12.0" text-anchor="end" fill="#1e1e1e" stroke="#1e1e1e" stroke-width="0.12" textLength="16.4" lengthAdjust="spacingAndGlyphs">0.0</text>
<line x1="48.05" y1="463.30" x2="50.55" y2="463.30" stroke="#161616" stroke-width="1.2"/>
<line x1="315.20" y1="463.30" x2="312.70" y2="463.30" stroke="#161616" stroke-width="1.2"/>
<line x1="48.05" y1="451.30" x2="52.25" y2="451.30" stroke="#161616" stroke-width="1.2"/>
<line x1="315.20" y1="451.30" x2="311.00" y2="451.30" stroke="#161616" stroke-width="1.2"/>
<text x="43.90" y="454.80" font-size="12.0" text-anchor="end" fill="#1e1e1e" stroke="#1e1e1e" stroke-width="0.12" textLength="16.4" lengthAdjust="spacingAndGlyphs">0.5</text>
<line x1="48.05" y1="439.30" x2="50.55" y2="439.30" stroke="#161616" stroke-width="1.2"/>
<line x1="315.20" y1="439.30" x2="312.70" y2="439.30" stroke="#161616" stroke-width="1.2"/>
<line x1="48.05" y1="427.30" x2="52.25" y2="427.30" stroke="#161616" stroke-width="1.2"/>
<line x1="315.20" y1="427.30" x2="311.00" y2="427.30" stroke="#161616" stroke-width="1.2"/>
<text x="43.90" y="430.80" font-size="12.0" text-anchor="end" fill="#1e1e1e" stroke="#1e1e1e" stroke-width="0.12" textLength="16.4" lengthAdjust="spacingAndGlyphs">1.0</text>
<line x1="48.05" y1="415.30" x2="50.55" y2="415.30" stroke="#161616" stroke-width="1.2"/>
<line x1="315.20" y1="415.30" x2="312.70" y2="415.30" stroke="#161616" stroke-width="1.2"/>
<line x1="48.05" y1="403.30" x2="52.25" y2="403.30" stroke="#161616" stroke-width="1.2"/>
<line x1="315.20" y1="403.30" x2="311.00" y2="403.30" stroke="#161616" stroke-width="1.2"/>
<text x="43.90" y="406.80" font-size="12.0" text-anchor="end" fill="#1e1e1e" stroke="#1e1e1e" stroke-width="0.12" textLength="16.4" lengthAdjust="spacingAndGlyphs">1.5</text>
<line x1="48.05" y1="391.30" x2="50.55" y2="391.30" stroke="#161616" stroke-width="1.2"/>
<line x1="315.20" y1="391.30" x2="312.70" y2="391.30" stroke="#161616" stroke-width="1.2"/>
<line x1="48.05" y1="379.30" x2="52.25" y2="379.30" stroke="#161616" stroke-width="1.2"/>
<line x1="315.20" y1="379.30" x2="311.00" y2="379.30" stroke="#161616" stroke-width="1.2"/>
<text x="43.90" y="382.80" font-size="12.0" text-anchor="end" fill="#1e1e1e" stroke="#1e1e1e" stroke-width="0.12" textLength="16.4" lengthAdjust="spacingAndGlyphs">2.0</text>
<line x1="48.05" y1="367.30" x2="50.55" y2="367.30" stroke="#161616" stroke-width="1.2"/>
<line x1="315.20" y1="367.30" x2="312.70" y2="367.30" stroke="#161616" stroke-width="1.2"/>
<line x1="48.05" y1="355.30" x2="52.25" y2="355.30" stroke="#161616" stroke-width="1.2"/>
<line x1="315.20" y1="355.30" x2="311.00" y2="355.30" stroke="#161616" stroke-width="1.2"/>
<text x="43.90" y="358.80" font-size="12.0" text-anchor="end" fill="#1e1e1e" stroke="#1e1e1e" stroke-width="0.12" textLength="16.4" lengthAdjust="spacingAndGlyphs">2.5</text>
<line x1="48.05" y1="343.30" x2="50.55" y2="343.30" stroke="#161616" stroke-width="1.2"/>
<line x1="315.20" y1="343.30" x2="312.70" y2="343.30" stroke="#161616" stroke-width="1.2"/>
<line x1="48.05" y1="331.30" x2="52.25" y2="331.30" stroke="#161616" stroke-width="1.2"/>
<line x1="315.20" y1="331.30" x2="311.00" y2="331.30" stroke="#161616" stroke-width="1.2"/>
<text x="43.90" y="334.80" font-size="12.0" text-anchor="end" fill="#1e1e1e" stroke="#1e1e1e" stroke-width="0.12" textLength="16.4" lengthAdjust="spacingAndGlyphs">3.0</text>
<line x1="48.05" y1="319.30" x2="50.55" y2="319.30" stroke="#161616" stroke-width="1.2"/>
<line x1="315.20" y1="319.30" x2="312.70" y2="319.30" stroke="#161616" stroke-width="1.2"/>
<line x1="48.05" y1="307.30" x2="52.25" y2="307.30" stroke="#161616" stroke-width="1.2"/>
<line x1="315.20" y1="307.30" x2="311.00" y2="307.30" stroke="#161616" stroke-width="1.2"/>
<text x="43.90" y="310.80" font-size="12.0" text-anchor="end" fill="#1e1e1e" stroke="#1e1e1e" stroke-width="0.12" textLength="16.4" lengthAdjust="spacingAndGlyphs">3.5</text>
<line x1="48.05" y1="295.30" x2="50.55" y2="295.30" stroke="#161616" stroke-width="1.2"/>
<line x1="315.20" y1="295.30" x2="312.70" y2="295.30" stroke="#161616" stroke-width="1.2"/>
<line x1="48.05" y1="283.30" x2="52.25" y2="283.30" stroke="#161616" stroke-width="1.2"/>
<line x1="315.20" y1="283.30" x2="311.00" y2="283.30" stroke="#161616" stroke-width="1.2"/>
<text x="43.90" y="286.80" font-size="12.0" text-anchor="end" fill="#1e1e1e" stroke="#1e1e1e" stroke-width="0.12" textLength="16.4" lengthAdjust="spacingAndGlyphs">4.0</text>
<line x1="181.55" y1="271.00" x2="181.55" y2="488.90" stroke="#151515" stroke-width="1.3"/>
<text x="126.40" y="515.20" font-size="12.6" text-anchor="start" fill="#1e1e1e" stroke="#1e1e1e" stroke-width="0.12" textLength="131.3" lengthAdjust="spacingAndGlyphs">Far field angle (degree)</text>
<text x="18.60" y="422.00" font-size="12.2" text-anchor="start" fill="#1e1e1e" stroke="#1e1e1e" stroke-width="0.12" transform="rotate(-90 18.6 422.0)" textLength="84.5" lengthAdjust="spacingAndGlyphs">Intensity (a. u.)</text>
<text x="63.50" y="300.40" font-size="21.5" text-anchor="start" fill="#1e1e1e" stroke="#1e1e1e" stroke-width="0.12" textLength="25.5" lengthAdjust="spacingAndGlyphs">(b)</text>
<path d="M69.30,331.20 C79.42,331.02 118.33,330.47 130.00,330.10 C141.67,329.73 136.72,329.52 139.30,329.00 C141.88,328.48 143.17,328.50 145.50,327.00 C147.83,325.50 151.22,322.07 153.30,320.00 C155.38,317.93 156.57,316.93 158.00,314.60 C159.43,312.27 160.63,308.57 161.90,306.00 C163.17,303.43 164.37,300.85 165.60,299.20 C166.83,297.55 168.17,297.33 169.30,296.10 C170.43,294.87 171.45,293.25 172.40,291.80 C173.35,290.35 174.27,288.82 175.00,287.40 C175.73,285.98 175.72,283.98 176.80,283.30 C177.88,282.62 180.22,282.35 181.50,283.30 C182.78,284.25 183.53,287.18 184.50,289.00 C185.47,290.82 186.52,292.95 187.30,294.20 C188.08,295.45 188.37,295.15 189.20,296.50 C190.03,297.85 191.07,300.30 192.30,302.30 C193.53,304.30 194.95,306.38 196.60,308.50 C198.25,310.62 200.33,312.67 202.20,315.00 C204.07,317.33 205.62,320.47 207.80,322.50 C209.98,324.53 212.20,325.95 215.30,327.20 C218.40,328.45 222.62,329.38 226.40,330.00 C230.18,330.62 226.82,330.70 238.00,330.90 C249.18,331.10 284.25,331.15 293.50,331.20" fill="none" stroke="#00ffff" stroke-width="1.4" stroke-linejoin="round"/>
<path d="M69.30,379.30 C77.75,379.28 109.68,379.30 120.00,379.20 C130.32,379.10 128.10,379.10 131.20,378.70 C134.30,378.30 135.80,377.73 138.60,376.80 C141.40,375.87 145.82,374.43 148.00,373.10 C150.18,371.77 150.62,369.65 151.70,368.80 C152.78,367.95 153.57,368.98 154.50,368.00 C155.43,367.02 156.38,364.23 157.30,362.90 C158.22,361.57 158.92,361.72 160.00,360.00 C161.08,358.28 162.87,353.52 163.80,352.60 C164.73,351.68 164.67,355.73 165.60,354.50 C166.53,353.27 168.47,346.67 169.40,345.20 C170.33,343.73 170.12,346.63 171.20,345.70 C172.28,344.77 174.77,340.93 175.90,339.60 C177.03,338.27 177.28,339.03 178.00,337.70 C178.72,336.37 179.58,332.38 180.20,331.60 C180.82,330.82 180.82,332.45 181.70,333.00 C182.58,333.55 184.10,334.43 185.50,334.90 C186.90,335.37 188.55,334.55 190.10,335.80 C191.65,337.05 193.08,340.07 194.80,342.40 C196.52,344.73 198.38,346.23 200.40,349.80 C202.42,353.37 204.42,359.92 206.90,363.80 C209.38,367.68 212.35,370.77 215.30,373.10 C218.25,375.43 220.82,376.78 224.60,377.80 C228.38,378.82 226.52,378.95 238.00,379.20 C249.48,379.45 284.25,379.28 293.50,379.30" fill="none" stroke="#0000ff" stroke-width="1.15" stroke-linejoin="round"/>
<path d="M69.30,427.30 C77.75,427.22 108.45,426.97 120.00,426.80 C131.55,426.63 134.57,426.55 138.60,426.30 C142.63,426.05 142.63,425.62 144.20,425.30 C145.77,424.98 147.07,424.45 148.00,424.40 C148.93,424.35 148.88,425.68 149.80,425.00 C150.72,424.32 152.42,421.13 153.50,420.30 C154.58,419.47 155.37,420.93 156.30,420.00 C157.23,419.07 158.25,415.65 159.10,414.70 C159.95,413.75 160.53,416.20 161.40,414.30 C162.27,412.40 163.50,404.98 164.30,403.30 C165.10,401.62 165.37,405.40 166.20,404.20 C167.03,403.00 168.37,397.87 169.30,396.10 C170.23,394.33 171.07,395.25 171.80,393.60 C172.53,391.95 173.18,388.10 173.70,386.20 C174.22,384.30 174.38,382.73 174.90,382.20 C175.42,381.67 175.97,383.37 176.80,383.00 C177.63,382.63 179.08,380.30 179.90,380.00 C180.72,379.70 180.98,381.00 181.70,381.20 C182.42,381.40 183.37,381.52 184.20,381.20 C185.03,380.88 185.97,378.88 186.70,379.30 C187.43,379.72 187.87,381.52 188.60,383.70 C189.33,385.88 190.07,389.92 191.10,392.40 C192.13,394.88 193.57,396.33 194.80,398.60 C196.03,400.87 197.57,404.25 198.50,406.00 C199.43,407.75 199.15,406.87 200.40,409.10 C201.65,411.33 203.52,416.75 206.00,419.40 C208.48,422.05 211.90,423.77 215.30,425.00 C218.70,426.23 222.62,426.40 226.40,426.80 C230.18,427.20 226.82,427.30 238.00,427.40 C249.18,427.50 284.25,427.40 293.50,427.40" fill="none" stroke="#00ff00" stroke-width="1.2" stroke-linejoin="round"/>
<path d="M69.30,475.30 C77.75,475.18 108.45,474.75 120.00,474.60 C131.55,474.45 134.87,474.55 138.60,474.40 C142.33,474.25 141.30,473.98 142.40,473.70 C143.50,473.42 144.12,472.73 145.20,472.70 C146.28,472.67 147.67,474.37 148.90,473.50 C150.13,472.63 151.52,468.28 152.60,467.50 C153.68,466.72 154.47,469.73 155.40,468.80 C156.33,467.87 157.33,462.95 158.20,461.90 C159.07,460.85 159.67,464.52 160.60,462.50 C161.53,460.48 162.87,451.77 163.80,449.80 C164.73,447.83 165.27,453.03 166.20,450.70 C167.13,448.37 168.40,438.75 169.40,435.80 C170.40,432.85 171.27,434.33 172.20,433.00 C173.13,431.67 174.23,428.42 175.00,427.80 C175.77,427.18 176.30,429.20 176.80,429.30 C177.30,429.40 177.18,428.25 178.00,428.40 C178.82,428.55 180.45,430.20 181.70,430.20 C182.95,430.20 184.42,428.08 185.50,428.40 C186.58,428.72 187.43,431.33 188.20,432.10 C188.97,432.87 189.32,431.28 190.10,433.00 C190.88,434.72 191.97,440.22 192.90,442.40 C193.83,444.58 194.30,443.17 195.70,446.10 C197.10,449.03 199.58,456.22 201.30,460.00 C203.02,463.78 203.67,466.47 206.00,468.80 C208.33,471.13 211.90,472.93 215.30,474.00 C218.70,475.07 222.62,474.98 226.40,475.20 C230.18,475.42 226.82,475.28 238.00,475.30 C249.18,475.32 284.25,475.30 293.50,475.30" fill="none" stroke="#ff0000" stroke-width="1.15" stroke-linejoin="round"/>
<text x="257.60" y="324.60" font-size="12.6" text-anchor="start" fill="#00ffff" stroke="#00ffff" stroke-width="0.15" textLength="47.4" lengthAdjust="spacingAndGlyphs">I = 1.8 A</text>
<text x="257.60" y="372.60" font-size="12.6" text-anchor="start" fill="#0000ff" stroke="#0000ff" stroke-width="0.15" textLength="47.4" lengthAdjust="spacingAndGlyphs">I = 1.5 A</text>
<text x="257.60" y="419.60" font-size="12.6" text-anchor="start" fill="#00ff00" stroke="#00ff00" stroke-width="0.15" textLength="47.4" lengthAdjust="spacingAndGlyphs">I = 1.2 A</text>
<text x="257.60" y="468.90" font-size="12.6" text-anchor="start" fill="#ff0000" stroke="#ff0000" stroke-width="0.15" textLength="47.4" lengthAdjust="spacingAndGlyphs">I = 0.9 A</text>
</svg>
</body></html>
